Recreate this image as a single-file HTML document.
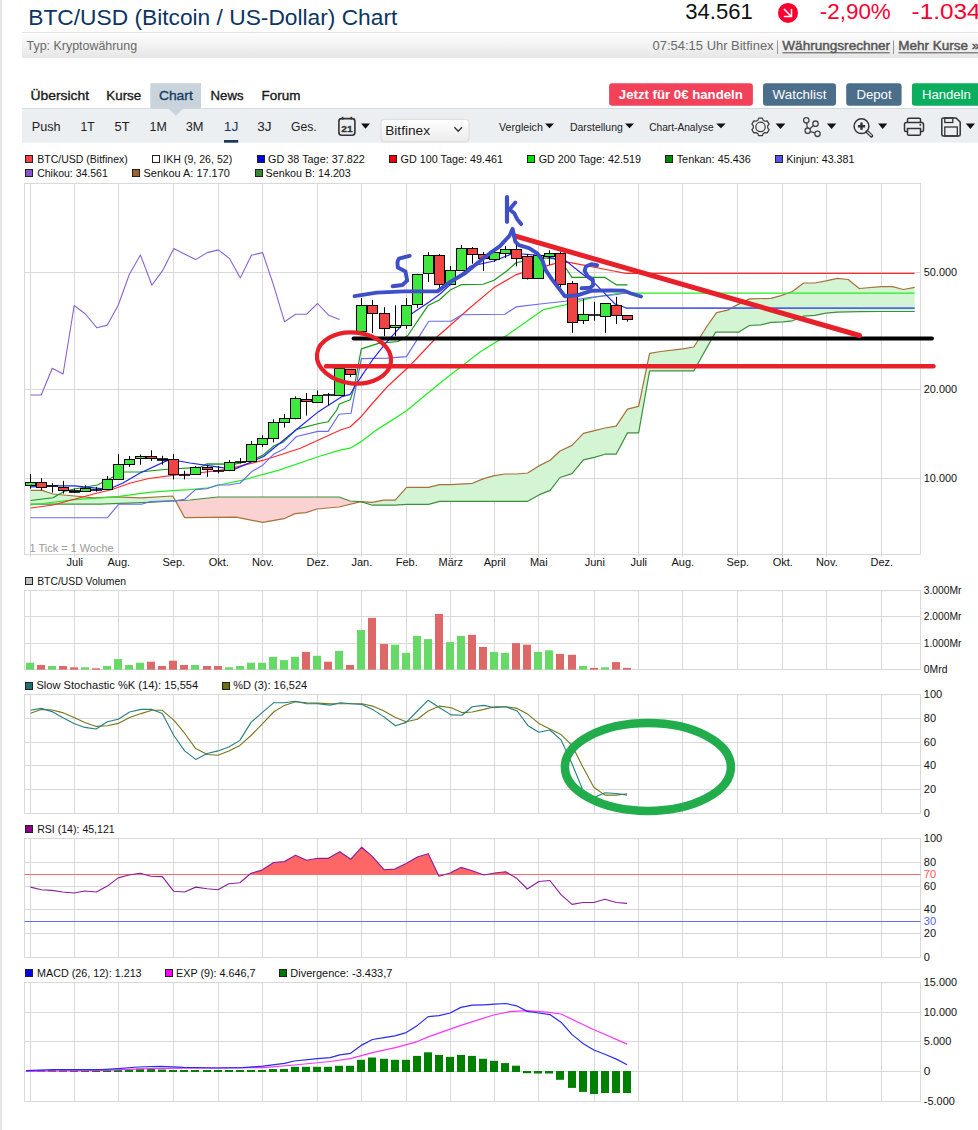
<!DOCTYPE html>
<html><head><meta charset="utf-8"><title>BTC/USD Chart</title><style>html,body{margin:0;padding:0;background:#fff;}svg{display:block;}</style></head><body>
<svg width="978" height="1130" viewBox="0 0 978 1130" font-family="Liberation Sans, sans-serif">
<defs><linearGradient id="subbar" x1="0" y1="0" x2="0" y2="1"><stop offset="0" stop-color="#ffffff"/><stop offset="1" stop-color="#e6e6e6"/></linearGradient><linearGradient id="selg" x1="0" y1="0" x2="0" y2="1"><stop offset="0" stop-color="#ffffff"/><stop offset="1" stop-color="#ececec"/></linearGradient></defs>
<rect width="978" height="1130" fill="#fff"/>
<rect x="0" y="0" width="2" height="1130" fill="#e6e6e6"/>
<text x="28.3" y="24.6" font-size="21.5" fill="#0c3564" textLength="369" lengthAdjust="spacingAndGlyphs">BTC/USD (Bitcoin / US-Dollar) Chart</text>
<text x="685.3" y="19" font-size="22" fill="#111" textLength="67.5" lengthAdjust="spacingAndGlyphs">34.561</text>
<circle cx="788" cy="12.9" r="10" fill="#fa0032"/>
<path d="M784.3 9.4 L791.1 16.2 M791.5 9.6 V16.6 H784.5" fill="none" stroke="#fff" stroke-width="1.5" stroke-linecap="round" stroke-linejoin="miter"/>
<text x="819.8" y="18.9" font-size="22" fill="#fa0032" textLength="71" lengthAdjust="spacingAndGlyphs">-2,90%</text>
<text x="911.6" y="18.9" font-size="22" fill="#fa0032" textLength="69" lengthAdjust="spacingAndGlyphs">-1.034</text>
<rect x="22" y="32" width="956" height="26" fill="url(#subbar)"/>
<line x1="22" y1="32.5" x2="978" y2="32.5" stroke="#e2e2e2" stroke-width="1"/>
<text x="26.6" y="50.1" font-size="13" fill="#6a6a6a" textLength="110.5" lengthAdjust="spacingAndGlyphs">Typ: Kryptowährung</text>
<text x="652.6" y="50.1" font-size="13" fill="#6a6a6a" textLength="121" lengthAdjust="spacingAndGlyphs">07:54:15 Uhr Bitfinex</text>
<rect x="777" y="40.5" width="1" height="13.5" fill="#999"/>
<text x="782.3" y="50.1" font-size="13.3" fill="#555" textLength="107.8" lengthAdjust="spacingAndGlyphs" stroke="#555" stroke-width="0.45">Währungsrechner</text>
<rect x="782.5" y="52.3" width="107.3" height="1" fill="#555"/>
<rect x="893" y="40.5" width="1" height="13.5" fill="#999"/>
<text x="898.2" y="50.1" font-size="13.3" fill="#555" textLength="81" lengthAdjust="spacingAndGlyphs" stroke="#555" stroke-width="0.45">Mehr Kurse »</text>
<rect x="898.5" y="52.3" width="80" height="1" fill="#555"/>
<rect x="150.3" y="83.2" width="50.7" height="25.4" fill="#c9d3dc"/>
<text x="30.5" y="100.1" font-size="12.8" fill="#1a1a1a" textLength="58.6" lengthAdjust="spacingAndGlyphs" stroke="#1a1a1a" stroke-width="0.35">Übersicht</text>
<text x="106.3" y="100.1" font-size="12.8" fill="#1a1a1a" textLength="34.9" lengthAdjust="spacingAndGlyphs" stroke="#1a1a1a" stroke-width="0.35">Kurse</text>
<text x="158.9" y="100.1" font-size="12.8" fill="#163e64" textLength="33.9" lengthAdjust="spacingAndGlyphs" stroke="#163e64" stroke-width="0.35">Chart</text>
<text x="210.6" y="100.1" font-size="12.8" fill="#1a1a1a" textLength="32.9" lengthAdjust="spacingAndGlyphs" stroke="#1a1a1a" stroke-width="0.35">News</text>
<text x="261.6" y="100.1" font-size="12.8" fill="#1a1a1a" textLength="38.9" lengthAdjust="spacingAndGlyphs" stroke="#1a1a1a" stroke-width="0.35">Forum</text>
<rect x="609.1" y="83.2" width="143.8" height="22.5" rx="3" fill="#f2425a"/>
<text x="618.8" y="98.6" font-size="12.5" fill="#fff" font-weight="bold" textLength="124" lengthAdjust="spacingAndGlyphs">Jetzt für 0€ handeln</text>
<rect x="763" y="83.2" width="73" height="22.5" rx="3" fill="#4b6e8a"/>
<text x="772.6" y="98.6" font-size="13.3" fill="#fff" textLength="53.8" lengthAdjust="spacingAndGlyphs">Watchlist</text>
<rect x="846.2" y="83.2" width="55.4" height="22.5" rx="3" fill="#4b6e8a"/>
<text x="856.4" y="98.6" font-size="13.3" fill="#fff" textLength="35.2" lengthAdjust="spacingAndGlyphs">Depot</text>
<rect x="911.9" y="83.2" width="70" height="22.5" rx="3" fill="#0aae5e"/>
<text x="922" y="98.6" font-size="13.3" fill="#fff" textLength="48.8" lengthAdjust="spacingAndGlyphs">Handeln</text>
<rect x="22" y="108.4" width="956" height="34.3" fill="#eceff2"/>
<line x1="22" y1="108.5" x2="978" y2="108.5" stroke="#d4dbe2" stroke-width="1"/>
<rect x="150.3" y="108.3" width="50.7" height="0.6" fill="#c9d3dc"/>
<polygon points="168.3,108.4 183.3,108.4 175.8,115.8" fill="#c9d3dc"/>
<text x="31.8" y="131" font-size="13" fill="#222" textLength="28.8" lengthAdjust="spacingAndGlyphs">Push</text>
<text x="80.6" y="131" font-size="13" fill="#222" textLength="14" lengthAdjust="spacingAndGlyphs">1T</text>
<text x="114.6" y="131" font-size="13" fill="#222" textLength="15" lengthAdjust="spacingAndGlyphs">5T</text>
<text x="149.6" y="131" font-size="13" fill="#222" textLength="17.2" lengthAdjust="spacingAndGlyphs">1M</text>
<text x="185.7" y="131" font-size="13" fill="#222" textLength="17.8" lengthAdjust="spacingAndGlyphs">3M</text>
<text x="223.8" y="131" font-size="13" fill="#1c3a5c" textLength="14.7" lengthAdjust="spacingAndGlyphs">1J</text>
<text x="257.3" y="131" font-size="13" fill="#222" textLength="14.3" lengthAdjust="spacingAndGlyphs">3J</text>
<text x="291" y="131" font-size="13" fill="#222" textLength="25.7" lengthAdjust="spacingAndGlyphs">Ges.</text>
<rect x="224" y="140" width="14.2" height="2.7" fill="#1b3a5a"/>
<rect x="338.9" y="118.6" width="16" height="16.6" rx="2.6" fill="none" stroke="#333" stroke-width="1.6"/>
<line x1="342.6" y1="116.8" x2="342.6" y2="119.6" stroke="#333" stroke-width="1.6"/>
<line x1="351.3" y1="116.8" x2="351.3" y2="119.6" stroke="#333" stroke-width="1.6"/>
<text x="341.3" y="132.4" font-size="9.6" fill="#333" font-weight="bold" textLength="11.4" lengthAdjust="spacingAndGlyphs" stroke="#333" stroke-width="0.3">21</text>
<polygon points="361,123.6 370,123.6 365.5,128.8" fill="#111"/>
<rect x="381" y="119.3" width="88" height="22.6" rx="3.5" fill="url(#selg)" stroke="#dadada" stroke-width="1"/>
<text x="385.2" y="135" font-size="13" fill="#1a1a1a" textLength="44.8" lengthAdjust="spacingAndGlyphs">Bitfinex</text>
<polyline points="454.4,127.3 458.2,131.2 462,127.3" fill="none" stroke="#333" stroke-width="1.4"/>
<text x="499.1" y="130.5" font-size="11.5" fill="#222" textLength="43.7" lengthAdjust="spacingAndGlyphs">Vergleich</text>
<polygon points="545,123.4 554,123.4 549.5,128.2" fill="#111"/>
<text x="569.9" y="130.5" font-size="11.5" fill="#222" textLength="52.9" lengthAdjust="spacingAndGlyphs">Darstellung</text>
<polygon points="625,123.4 634,123.4 629.5,128.2" fill="#111"/>
<text x="649.2" y="130.5" font-size="11.5" fill="#222" textLength="64.4" lengthAdjust="spacingAndGlyphs">Chart-Analyse</text>
<polygon points="716.2,123.4 725.7,123.4 720.95,128.2" fill="#111"/>
<path d="M757.8 120.22 L758.63 118.1 L762.37 118.1 L763.2 120.22 A7.2 7.2 0 0 1 764.93 121.23 L767.19 120.88 L769.06 124.12 L767.63 125.9 A7.2 7.2 0 0 1 767.63 127.9 L769.06 129.68 L767.19 132.92 L764.93 132.57 A7.2 7.2 0 0 1 763.2 133.58 L762.37 135.7 L758.63 135.7 L757.8 133.58 A7.2 7.2 0 0 1 756.07 132.57 L753.81 132.92 L751.94 129.68 L753.37 127.9 A7.2 7.2 0 0 1 753.37 125.9 L751.94 124.12 L753.81 120.88 L756.07 121.23 A7.2 7.2 0 0 1 757.8 120.22 Z" fill="none" stroke="#3a3a3a" stroke-width="1.2" stroke-linejoin="round"/>
<circle cx="760.5" cy="126.9" r="4.7" fill="none" stroke="#3a3a3a" stroke-width="1.2"/>
<polygon points="775.6,123.4 785.4,123.4 780.5,129" fill="#111"/>
<path d="M806.3 120.3 L807.7 130.7 L815.5 123.7 M807.7 130.7 L817.5 133.8" fill="none" stroke="#444" stroke-width="1.3"/>
<circle cx="806.3" cy="120.3" r="2.7" fill="#eceff2" stroke="#444" stroke-width="1.3"/>
<circle cx="815.5" cy="123.7" r="2.7" fill="#eceff2" stroke="#444" stroke-width="1.3"/>
<circle cx="807.7" cy="130.7" r="2.7" fill="#eceff2" stroke="#444" stroke-width="1.3"/>
<circle cx="817.5" cy="133.8" r="2.7" fill="#eceff2" stroke="#444" stroke-width="1.3"/>
<polygon points="826.9,123.4 836.3,123.4 831.6,129" fill="#111"/>
<circle cx="861.5" cy="126.2" r="7.4" fill="none" stroke="#333" stroke-width="1.5"/>
<line x1="867.2" y1="131.7" x2="871.6" y2="135.9" stroke="#333" stroke-width="3.4" stroke-linecap="round"/>
<line x1="867.6" y1="132.1" x2="871.2" y2="135.5" stroke="#eceff2" stroke-width="1.1" stroke-linecap="round"/>
<path d="M857.9 126.2 H865.1 M861.5 122.6 V129.8" stroke="#333" stroke-width="2.4"/>
<polygon points="878.1,123.6 887.3,123.6 882.7,129" fill="#111"/>
<path d="M907.5 122.5 V119.5 Q907.5 118.2 909 118.2 H919 Q920.5 118.2 920.5 119.5 V122.5" fill="none" stroke="#333" stroke-width="1.5"/>
<path d="M907.5 131.5 H905.8 Q904.5 131.5 904.5 130 V124.5 Q904.5 122.5 906.5 122.5 H921.5 Q923.5 122.5 923.5 124.5 V130 Q923.5 131.5 922 131.5 H920.5" fill="none" stroke="#333" stroke-width="1.5"/>
<path d="M907.5 128.5 H920.5 V134 Q920.5 135.3 919 135.3 H909 Q907.5 135.3 907.5 134 Z" fill="none" stroke="#333" stroke-width="1.5"/>
<circle cx="920.3" cy="125" r="0.9" fill="#333"/>
<path d="M941.8 119.5 Q941.8 118 943.3 118 H956 L960.2 122 V134.5 Q960.2 136 958.7 136 H943.3 Q941.8 136 941.8 134.5 Z" fill="none" stroke="#333" stroke-width="1.5"/>
<rect x="944.8" y="118" width="8" height="4.5" fill="none" stroke="#333" stroke-width="1.3"/>
<rect x="944.8" y="127" width="12.5" height="9" fill="none" stroke="#333" stroke-width="1.3"/>
<polygon points="965.8,123.6 975,123.6 970.4,129" fill="#111"/>
<line x1="30.5" y1="183.5" x2="30.5" y2="557.0" stroke="#d9d9d9" stroke-width="1"/>
<line x1="74.5" y1="183.5" x2="74.5" y2="557.0" stroke="#d9d9d9" stroke-width="1"/>
<line x1="118.5" y1="183.5" x2="118.5" y2="557.0" stroke="#d9d9d9" stroke-width="1"/>
<line x1="173.5" y1="183.5" x2="173.5" y2="557.0" stroke="#d9d9d9" stroke-width="1"/>
<line x1="218.5" y1="183.5" x2="218.5" y2="557.0" stroke="#d9d9d9" stroke-width="1"/>
<line x1="262.5" y1="183.5" x2="262.5" y2="557.0" stroke="#d9d9d9" stroke-width="1"/>
<line x1="317.5" y1="183.5" x2="317.5" y2="557.0" stroke="#d9d9d9" stroke-width="1"/>
<line x1="361.5" y1="183.5" x2="361.5" y2="557.0" stroke="#d9d9d9" stroke-width="1"/>
<line x1="406.5" y1="183.5" x2="406.5" y2="557.0" stroke="#d9d9d9" stroke-width="1"/>
<line x1="450.5" y1="183.5" x2="450.5" y2="557.0" stroke="#d9d9d9" stroke-width="1"/>
<line x1="494.5" y1="183.5" x2="494.5" y2="557.0" stroke="#d9d9d9" stroke-width="1"/>
<line x1="538.5" y1="183.5" x2="538.5" y2="557.0" stroke="#d9d9d9" stroke-width="1"/>
<line x1="594.5" y1="183.5" x2="594.5" y2="557.0" stroke="#d9d9d9" stroke-width="1"/>
<line x1="638.5" y1="183.5" x2="638.5" y2="557.0" stroke="#d9d9d9" stroke-width="1"/>
<line x1="682.5" y1="183.5" x2="682.5" y2="557.0" stroke="#d9d9d9" stroke-width="1"/>
<line x1="737.5" y1="183.5" x2="737.5" y2="557.0" stroke="#d9d9d9" stroke-width="1"/>
<line x1="782.5" y1="183.5" x2="782.5" y2="557.0" stroke="#d9d9d9" stroke-width="1"/>
<line x1="826.5" y1="183.5" x2="826.5" y2="557.0" stroke="#d9d9d9" stroke-width="1"/>
<line x1="881.5" y1="183.5" x2="881.5" y2="557.0" stroke="#d9d9d9" stroke-width="1"/>
<line x1="24.5" y1="272.5" x2="920.5" y2="272.5" stroke="#d9d9d9" stroke-width="1"/>
<line x1="24.5" y1="389.5" x2="920.5" y2="389.5" stroke="#d9d9d9" stroke-width="1"/>
<line x1="24.5" y1="478.5" x2="920.5" y2="478.5" stroke="#d9d9d9" stroke-width="1"/>
<rect x="24.5" y="183.5" width="896.0" height="371.0" fill="none" stroke="#d9d9d9" stroke-width="1"/>
<rect x="25.5" y="155.5" width="7" height="7" fill="#f04444" stroke="#222" stroke-width="1"/>
<text x="37.2" y="162.8" font-size="10.4" fill="#111" textLength="90.6" lengthAdjust="spacingAndGlyphs">BTC/USD (Bitfinex)</text>
<rect x="152.5" y="155.5" width="7" height="7" fill="#ffffff" stroke="#222" stroke-width="1"/>
<text x="163.3" y="162.8" font-size="10.4" fill="#111" textLength="68.9" lengthAdjust="spacingAndGlyphs">IKH (9, 26, 52)</text>
<rect x="257.5" y="155.5" width="7" height="7" fill="#0000dd" stroke="#222" stroke-width="1"/>
<text x="268.1" y="162.8" font-size="10.4" fill="#111" textLength="96.7" lengthAdjust="spacingAndGlyphs">GD 38 Tage: 37.822</text>
<rect x="389.5" y="155.5" width="7" height="7" fill="#ee0000" stroke="#222" stroke-width="1"/>
<text x="400.6" y="162.8" font-size="10.4" fill="#111" textLength="102.3" lengthAdjust="spacingAndGlyphs">GD 100 Tage: 49.461</text>
<rect x="527.5" y="155.5" width="7" height="7" fill="#00dd00" stroke="#222" stroke-width="1"/>
<text x="538.7" y="162.8" font-size="10.4" fill="#111" textLength="102.3" lengthAdjust="spacingAndGlyphs">GD 200 Tage: 42.519</text>
<rect x="665.5" y="155.5" width="7" height="7" fill="#008800" stroke="#222" stroke-width="1"/>
<text x="676.7" y="162.8" font-size="10.4" fill="#111" textLength="74.1" lengthAdjust="spacingAndGlyphs">Tenkan: 45.436</text>
<rect x="775.5" y="155.5" width="7" height="7" fill="#5555ee" stroke="#222" stroke-width="1"/>
<text x="786.2" y="162.8" font-size="10.4" fill="#111" textLength="68.2" lengthAdjust="spacingAndGlyphs">Kinjun: 43.381</text>
<rect x="25.5" y="169.5" width="7" height="7" fill="#8855cc" stroke="#222" stroke-width="1"/>
<text x="37.2" y="176.5" font-size="10.4" fill="#111" textLength="70.6" lengthAdjust="spacingAndGlyphs">Chikou: 34.561</text>
<rect x="132.5" y="169.5" width="7" height="7" fill="#a0602a" stroke="#222" stroke-width="1"/>
<text x="143.6" y="176.5" font-size="10.4" fill="#111" textLength="86.2" lengthAdjust="spacingAndGlyphs">Senkou A: 17.170</text>
<rect x="255.5" y="169.5" width="7" height="7" fill="#338833" stroke="#222" stroke-width="1"/>
<text x="265.6" y="176.5" font-size="10.4" fill="#111" textLength="85.2" lengthAdjust="spacingAndGlyphs">Senkou B: 14.203</text>
<text x="923.8" y="275.8" font-size="11.3" fill="#111" textLength="33.2" lengthAdjust="spacingAndGlyphs">50.000</text>
<text x="923.8" y="392.8" font-size="11.3" fill="#111" textLength="33.2" lengthAdjust="spacingAndGlyphs">20.000</text>
<text x="923.8" y="481.8" font-size="11.3" fill="#111" textLength="33.2" lengthAdjust="spacingAndGlyphs">10.000</text>
<text x="74.8" y="566.4" font-size="11" fill="#111" text-anchor="middle">Juli</text>
<text x="118.8" y="566.4" font-size="11" fill="#111" text-anchor="middle">Aug.</text>
<text x="173.8" y="566.4" font-size="11" fill="#111" text-anchor="middle">Sep.</text>
<text x="218.8" y="566.4" font-size="11" fill="#111" text-anchor="middle">Okt.</text>
<text x="262.8" y="566.4" font-size="11" fill="#111" text-anchor="middle">Nov.</text>
<text x="317.8" y="566.4" font-size="11" fill="#111" text-anchor="middle">Dez.</text>
<text x="361.8" y="566.4" font-size="11" fill="#111" text-anchor="middle">Jan.</text>
<text x="406.8" y="566.4" font-size="11" fill="#111" text-anchor="middle">Feb.</text>
<text x="450.8" y="566.4" font-size="11" fill="#111" text-anchor="middle">März</text>
<text x="494.8" y="566.4" font-size="11" fill="#111" text-anchor="middle">April</text>
<text x="538.8" y="566.4" font-size="11" fill="#111" text-anchor="middle">Mai</text>
<text x="594.8" y="566.4" font-size="11" fill="#111" text-anchor="middle">Juni</text>
<text x="638.8" y="566.4" font-size="11" fill="#111" text-anchor="middle">Juli</text>
<text x="682.8" y="566.4" font-size="11" fill="#111" text-anchor="middle">Aug.</text>
<text x="737.8" y="566.4" font-size="11" fill="#111" text-anchor="middle">Sep.</text>
<text x="782.8" y="566.4" font-size="11" fill="#111" text-anchor="middle">Okt.</text>
<text x="826.8" y="566.4" font-size="11" fill="#111" text-anchor="middle">Nov.</text>
<text x="881.8" y="566.4" font-size="11" fill="#111" text-anchor="middle">Dez.</text>
<text x="29.6" y="552.2" font-size="11" fill="#9a9a9a" textLength="84" lengthAdjust="spacingAndGlyphs">1 Tick = 1 Woche</text>
<polygon points="30.5,490.4 31,490.4 31.5,490.4 32,490.4 32.5,490.4 33,490.4 33.5,490.4 34,490.4 34.5,490.4 35,490.4 35.5,490.4 36,490.4 36.5,490.4 37,490.4 37.5,490.4 38,490.4 38.5,490.4 39,490.4 39.5,490.4 40,490.4 40.5,490.4 41,490.4 41.5,490.4 42,490.4 42.5,490.56 43,490.73 43.5,490.89 44,491.05 44.5,491.22 45,491.38 45.5,491.55 46,491.71 46.5,491.87 47,492.04 47.5,492.2 48,492.36 48.5,492.53 49,492.69 49.5,492.85 50,493.02 50.5,493.18 51,493.35 51.5,493.51 52,493.67 52.5,493.84 53,494 53.5,494.05 54,494.09 54.5,494.14 55,494.19 55.5,494.23 56,494.28 56.5,494.33 57,494.37 57.5,494.42 58,494.47 58.5,494.51 59,494.56 59.5,494.6 60,494.65 60.5,494.7 61,494.74 61.5,494.79 62,494.84 62.5,494.88 63,494.93 63.5,494.98 64,495.02 64.5,495.07 65,495.12 65.5,495.16 66,495.21 66.5,495.26 67,495.3 67.5,495.35 68,495.4 68.5,495.44 69,495.49 69.5,495.53 70,495.58 70.5,495.63 71,495.67 71.5,495.72 72,495.77 72.5,495.81 73,495.86 73.5,495.91 74,495.95 74.5,496 75,496.05 75.5,496.09 76,496.14 76.5,496.19 77,496.24 77.5,496.28 78,496.33 78.5,496.38 79,496.42 79.5,496.47 80,496.52 80.5,496.57 81,496.61 81.5,496.66 82,496.71 82.5,496.75 83,496.8 83.5,496.85 84,496.9 84.5,496.94 85,496.99 85.5,497.04 86,497.08 86.5,497.13 87,497.18 87.5,497.23 88,497.27 88.5,497.32 89,497.37 89.5,497.41 90,497.46 90.5,497.51 91,497.55 91.5,497.6 92,497.65 92.5,497.7 93,497.74 93.5,497.79 94,497.78 94.5,497.76 95,497.74 95.5,497.72 96,497.7 96.5,497.68 97,497.66 97.5,497.64 98,497.62 98.5,497.6 99,497.58 99.5,497.56 100,497.54 100.5,497.52 101,497.5 101.5,497.48 102,497.46 102.5,497.44 103,497.42 103.5,497.4 104,497.38 104.5,497.36 105,497.34 105.5,497.32 106,497.3 106.5,497.27 107,497.25 107.5,497.23 108,497.21 108.5,497.19 109,497.17 109.5,497.15 110,497.13 110.5,497.11 111,497.09 111.5,497.07 112,497.05 112.5,497.03 113,497.01 113.5,496.99 114,496.97 114.5,496.95 115,496.93 115.5,496.91 116,496.91 116.5,496.93 117,496.95 117.5,496.96 118,496.98 118.5,497 119,497.02 119.5,497.03 120,497.05 120.5,497.07 121,497.08 121.5,497.1 122,497.12 122.5,497.14 123,497.15 123.5,497.17 124,497.19 124.5,497.21 125,497.22 125.5,497.24 126,497.26 126.5,497.28 127,497.29 127.5,497.31 128,497.33 128.5,497.35 129,497.36 129.5,497.38 130,497.4 130.5,497.42 131,497.43 131.5,497.45 132,497.47 132.5,497.49 133,497.5 133.5,497.52 134,497.54 134.5,497.56 135,497.57 135.5,497.59 136,497.61 136.5,497.63 137,497.64 137.5,497.66 138,497.68 138.5,497.7 139,497.71 139.5,497.73 140,497.75 140.5,497.77 141,497.78 141.5,497.8 142,497.77 142.5,497.74 143,497.71 143.5,497.68 144,497.66 144.5,497.63 145,497.6 145.5,497.57 146,497.54 146.5,497.51 147,497.48 147.5,497.45 148,497.43 148.5,497.4 149,497.37 149.5,497.34 150,497.31 150.5,497.28 151,497.25 151.5,497.22 152,497.2 152.5,497.17 153,497.14 153.5,497.11 154,497.08 154.5,497.05 155,497.02 155.5,496.99 156,496.97 156.5,496.94 157,496.91 157.5,496.88 158,496.85 158.5,496.82 159,496.79 159.5,496.76 160,496.74 160.5,496.71 161,496.68 161.5,496.65 162,496.62 162.5,496.59 163,496.56 163.5,496.53 164,496.51 164.5,496.48 165,496.45 165.5,496.42 166,496.39 166.5,496.36 167,496.33 167.5,496.3 168,496.28 168.5,496.25 169,496.22 169.5,496.19 170,496.16 170.5,496.13 171,496.1 171.5,496.07 172,496.05 172.5,496.02 173,496.36 173.5,497.28 174,498.19 174.5,499.1 175,500.01 175.5,500.92 175.5,500.84 175,500.87 174.5,500.9 174,500.93 173.5,500.96 173,500.99 172.5,501.02 172,501.05 171.5,501.08 171,501.11 170.5,501.14 170,501.17 169.5,501.19 169,501.22 168.5,501.25 168,501.28 167.5,501.31 167,501.34 166.5,501.37 166,501.4 165.5,501.43 165,501.46 164.5,501.49 164,501.51 163.5,501.54 163,501.57 162.5,501.6 162,501.63 161.5,501.66 161,501.69 160.5,501.72 160,501.75 159.5,501.78 159,501.81 158.5,501.83 158,501.86 157.5,501.89 157,501.92 156.5,501.95 156,501.98 155.5,502.01 155,502.04 154.5,502.07 154,502.1 153.5,502.13 153,502.16 152.5,502.18 152,502.21 151.5,502.24 151,502.27 150.5,502.3 150,502.33 149.5,502.36 149,502.39 148.5,502.41 148,502.43 147.5,502.45 147,502.47 146.5,502.48 146,502.5 145.5,502.52 145,502.54 144.5,502.56 144,502.58 143.5,502.6 143,502.61 142.5,502.63 142,502.65 141.5,502.67 141,502.69 140.5,502.71 140,502.72 139.5,502.74 139,502.76 138.5,502.78 138,502.8 137.5,502.82 137,502.84 136.5,502.85 136,502.87 135.5,502.89 135,502.91 134.5,502.93 134,502.95 133.5,502.96 133,502.98 132.5,503 132,503.02 131.5,503.04 131,503.06 130.5,503.07 130,503.09 129.5,503.11 129,503.13 128.5,503.15 128,503.17 127.5,503.19 127,503.2 126.5,503.22 126,503.24 125.5,503.26 125,503.28 124.5,503.3 124,503.31 123.5,503.33 123,503.35 122.5,503.37 122,503.39 121.5,503.41 121,503.43 120.5,503.44 120,503.46 119.5,503.48 119,503.5 118.5,503.52 118,503.54 117.5,503.55 117,503.57 116.5,503.59 116,503.61 115.5,503.63 115,503.65 114.5,503.67 114,503.68 113.5,503.7 113,503.72 112.5,503.74 112,503.76 111.5,503.78 111,503.79 110.5,503.81 110,503.83 109.5,503.85 109,503.87 108.5,503.89 108,503.9 107.5,503.92 107,503.94 106.5,503.96 106,503.98 105.5,504 105,504.02 104.5,504.03 104,504.05 103.5,504.07 103,504.09 102.5,504.11 102,504.13 101.5,504.14 101,504.16 100.5,504.18 100,504.2 99.5,504.2 99,504.2 98.5,504.2 98,504.2 97.5,504.2 97,504.2 96.5,504.2 96,504.2 95.5,504.2 95,504.2 94.5,504.2 94,504.2 93.5,504.2 93,504.2 92.5,504.2 92,504.2 91.5,504.2 91,504.2 90.5,504.2 90,504.2 89.5,504.2 89,504.2 88.5,504.2 88,504.2 87.5,504.2 87,504.2 86.5,504.2 86,504.2 85.5,504.2 85,504.2 84.5,504.2 84,504.2 83.5,504.2 83,504.2 82.5,504.2 82,504.2 81.5,504.2 81,504.2 80.5,504.2 80,504.2 79.5,504.2 79,504.2 78.5,504.2 78,504.2 77.5,504.2 77,504.2 76.5,504.2 76,504.2 75.5,504.2 75,504.2 74.5,504.2 74,504.2 73.5,504.2 73,504.2 72.5,504.2 72,504.2 71.5,504.2 71,504.2 70.5,504.2 70,504.2 69.5,504.2 69,504.2 68.5,504.2 68,504.2 67.5,504.2 67,504.2 66.5,504.2 66,504.2 65.5,504.2 65,504.2 64.5,504.2 64,504.2 63.5,504.2 63,504.2 62.5,504.2 62,504.2 61.5,504.2 61,504.2 60.5,504.2 60,504.2 59.5,504.2 59,504.2 58.5,504.2 58,504.2 57.5,504.2 57,504.2 56.5,504.2 56,504.2 55.5,504.2 55,504.2 54.5,504.2 54,504.2 53.5,504.2 53,504.2 52.5,504.2 52,504.2 51.5,504.2 51,504.2 50.5,504.2 50,504.2 49.5,504.2 49,504.2 48.5,504.2 48,504.2 47.5,504.2 47,504.2 46.5,504.2 46,504.2 45.5,504.2 45,504.2 44.5,504.2 44,504.2 43.5,504.2 43,504.2 42.5,504.2 42,504.2 41.5,504.2 41,504.2 40.5,504.2 40,504.2 39.5,504.2 39,504.2 38.5,504.2 38,504.2 37.5,504.2 37,504.2 36.5,504.2 36,504.2 35.5,504.2 35,504.2 34.5,504.2 34,504.2 33.5,504.2 33,504.2 32.5,504.2 32,504.2 31.5,504.2 31,504.2 30.5,504.2" fill="#d4f5d4"/>
<polygon points="175.5,500.92 176,501.84 176.5,502.75 177,503.66 177.5,504.57 178,505.48 178.5,506.39 179,507.31 179.5,508.22 180,509.13 180.5,510.04 181,510.95 181.5,511.86 182,512.78 182.5,513.69 183,514.6 183.5,515.51 184,516.42 184.5,517.34 185,517.7 185.5,517.69 186,517.69 186.5,517.68 187,517.68 187.5,517.67 188,517.67 188.5,517.66 189,517.66 189.5,517.65 190,517.65 190.5,517.64 191,517.64 191.5,517.63 192,517.63 192.5,517.62 193,517.62 193.5,517.61 194,517.61 194.5,517.6 195,517.6 195.5,517.59 196,517.59 196.5,517.58 197,517.58 197.5,517.58 198,517.57 198.5,517.57 199,517.56 199.5,517.56 200,517.55 200.5,517.55 201,517.54 201.5,517.54 202,517.53 202.5,517.53 203,517.52 203.5,517.52 204,517.51 204.5,517.51 205,517.5 205.5,517.5 206,517.49 206.5,517.49 207,517.48 207.5,517.48 208,517.47 208.5,517.47 209,517.46 209.5,517.46 210,517.45 210.5,517.45 211,517.44 211.5,517.44 212,517.43 212.5,517.43 213,517.42 213.5,517.42 214,517.41 214.5,517.41 215,517.4 215.5,517.4 216,517.39 216.5,517.39 217,517.39 217.5,517.38 218,517.38 218.5,517.37 219,517.37 219.5,517.36 220,517.36 220.5,517.35 221,517.35 221.5,517.34 222,517.34 222.5,517.33 223,517.33 223.5,517.32 224,517.32 224.5,517.31 225,517.31 225.5,517.3 226,517.3 226.5,517.29 227,517.29 227.5,517.28 228,517.28 228.5,517.27 229,517.27 229.5,517.26 230,517.26 230.5,517.25 231,517.25 231.5,517.24 232,517.24 232.5,517.23 233,517.23 233.5,517.22 234,517.22 234.5,517.21 235,517.21 235.5,517.2 236,517.2 236.5,517.3 237,517.39 237.5,517.49 238,517.59 238.5,517.69 239,517.78 239.5,517.88 240,517.98 240.5,518.08 241,518.17 241.5,518.27 242,518.37 242.5,518.47 243,518.56 243.5,518.66 244,518.76 244.5,518.86 245,518.95 245.5,519.05 246,519.15 246.5,519.24 247,519.34 247.5,519.44 248,519.54 248.5,519.63 249,519.73 249.5,519.83 250,519.93 250.5,520.02 251,520.12 251.5,520.22 252,520.32 252.5,520.41 253,520.51 253.5,520.61 254,520.71 254.5,520.8 255,520.9 255.5,521 256,521.1 256.5,521.19 257,521.29 257.5,521.39 258,521.48 258.5,521.58 259,521.68 259.5,521.78 260,521.87 260.5,521.97 261,522.07 261.5,522.17 262,522.26 262.5,522.36 263,522.35 263.5,522.26 264,522.17 264.5,522.09 265,522 265.5,521.91 266,521.83 266.5,521.74 267,521.65 267.5,521.57 268,521.48 268.5,521.39 269,521.31 269.5,521.22 270,521.13 270.5,521.05 271,520.96 271.5,520.87 272,520.78 272.5,520.7 273,520.61 273.5,520.52 274,520.44 274.5,520.35 275,520.26 275.5,520.18 276,520.09 276.5,520 277,519.92 277.5,519.83 278,519.74 278.5,519.66 279,519.57 279.5,519.48 280,519.39 280.5,519.31 281,519.22 281.5,519.13 282,519.05 282.5,518.96 283,518.87 283.5,518.79 284,518.7 284.5,518.47 285,518.24 285.5,518 286,517.77 286.5,517.54 287,517.31 287.5,517.08 288,516.85 288.5,516.61 289,516.38 289.5,516.15 290,515.92 290.5,515.69 291,515.45 291.5,515.22 292,514.99 292.5,514.76 293,514.53 293.5,514.3 294,514.06 294.5,513.83 295,513.6 295.5,513.55 296,513.51 296.5,513.46 297,513.42 297.5,513.37 298,513.33 298.5,513.28 299,513.24 299.5,513.19 300,513.15 300.5,513.1 301,513.05 301.5,513.01 302,512.96 302.5,512.92 303,512.87 303.5,512.83 304,512.78 304.5,512.74 305,512.69 305.5,512.65 306,512.6 306.5,512.44 307,512.27 307.5,512.11 308,511.95 308.5,511.78 309,511.62 309.5,511.45 310,511.29 310.5,511.13 311,510.96 311.5,510.8 312,510.64 312.5,510.47 313,510.31 313.5,510.15 314,509.98 314.5,509.82 315,509.65 315.5,509.49 316,509.33 316.5,509.16 317,509 317.5,508.95 318,508.91 318.5,508.86 319,508.82 319.5,508.77 320,508.73 320.5,508.68 321,508.64 321.5,508.59 322,508.55 322.5,508.5 323,508.45 323.5,508.41 324,508.36 324.5,508.32 325,508.27 325.5,508.23 326,508.18 326.5,508.14 327,508.09 327.5,508.05 328,508 328.5,507.95 329,507.91 329.5,507.86 330,507.82 330.5,507.77 331,507.73 331.5,507.68 332,507.64 332.5,507.59 333,507.55 333.5,507.5 334,507.45 334.5,507.41 335,507.36 335.5,507.32 336,507.27 336.5,507.23 337,507.18 337.5,507.14 338,507.09 338.5,507.05 339,507 339.5,506.88 340,506.75 340.5,506.63 341,506.51 341.5,506.39 342,506.26 342.5,506.14 343,506.02 343.5,505.9 344,505.77 344.5,505.65 345,505.53 345.5,505.4 346,505.28 346.5,505.16 347,505.04 347.5,504.91 348,504.79 348.5,504.67 349,504.55 349.5,504.42 350,504.3 350.5,504.18 351,504.05 351.5,503.93 352,503.81 352.5,503.69 353,503.56 353.5,503.44 354,503.32 354.5,503.2 355,503.07 355.5,502.95 356,502.83 356.5,502.7 357,502.58 357.5,502.46 358,502.34 358.5,502.21 359,502.09 359.5,501.97 360,501.85 360.5,501.72 361,501.6 361,501.6 360.5,501.57 360,501.55 359.5,501.52 359,501.49 358.5,501.46 358,501.44 357.5,501.41 357,501.38 356.5,501.35 356,501.33 355.5,501.3 355,501.27 354.5,501.25 354,501.22 353.5,501.19 353,501.16 352.5,501.14 352,501.11 351.5,501.08 351,501.05 350.5,501.03 350,501 349.5,500.82 349,500.64 348.5,500.45 348,500.27 347.5,500.09 347,499.91 346.5,499.73 346,499.55 345.5,499.36 345,499.18 344.5,499 344,498.82 343.5,498.64 343,498.45 342.5,498.27 342,498.09 341.5,497.91 341,497.73 340.5,497.55 340,497.36 339.5,497.18 339,497 338.5,497 338,497 337.5,497 337,497 336.5,497 336,497 335.5,497 335,497 334.5,497 334,497 333.5,497 333,497 332.5,497 332,497 331.5,497 331,497 330.5,497 330,497 329.5,497 329,497 328.5,497 328,497 327.5,497 327,497 326.5,497 326,497 325.5,497 325,497 324.5,497 324,497 323.5,497 323,497 322.5,497 322,497 321.5,497 321,497 320.5,497 320,497 319.5,497 319,497 318.5,497 318,497 317.5,497 317,497 316.5,497 316,497 315.5,497 315,497 314.5,497 314,497 313.5,497 313,497 312.5,497 312,497 311.5,497 311,497 310.5,497 310,497 309.5,497 309,497 308.5,497 308,497 307.5,497 307,497 306.5,497 306,497 305.5,497 305,497 304.5,497 304,497 303.5,497 303,497 302.5,497 302,497 301.5,497 301,497 300.5,497 300,497 299.5,497 299,497 298.5,497 298,497 297.5,497 297,497 296.5,497 296,497 295.5,497 295,497 294.5,497 294,497 293.5,497 293,497 292.5,497 292,497 291.5,497 291,497 290.5,497 290,497 289.5,497 289,497 288.5,497 288,497 287.5,497 287,497 286.5,497 286,497 285.5,497 285,497 284.5,497 284,497 283.5,497 283,497 282.5,497 282,497 281.5,497 281,497 280.5,497 280,497 279.5,497 279,497 278.5,497 278,497 277.5,497 277,497 276.5,497 276,497 275.5,497 275,497 274.5,497 274,497 273.5,497 273,497 272.5,497 272,497 271.5,497 271,497 270.5,497 270,497 269.5,497 269,497 268.5,497 268,497 267.5,497 267,497 266.5,497 266,497 265.5,497 265,497 264.5,497 264,497 263.5,497 263,497 262.5,497 262,497 261.5,497 261,497 260.5,497 260,497 259.5,497 259,497 258.5,497 258,497 257.5,497 257,497 256.5,497 256,497 255.5,497 255,497 254.5,497 254,497 253.5,497 253,497 252.5,497 252,497 251.5,497 251,497 250.5,497 250,497 249.5,497 249,497 248.5,497 248,497 247.5,497 247,497 246.5,497 246,497 245.5,497 245,497 244.5,497 244,497 243.5,497 243,497 242.5,497 242,497 241.5,497 241,497 240.5,497 240,497 239.5,497 239,497 238.5,497 238,497 237.5,497 237,497 236.5,497 236,497 235.5,497 235,497 234.5,497 234,497 233.5,497 233,497 232.5,497 232,497 231.5,497 231,497 230.5,497 230,497 229.5,497 229,497 228.5,497 228,497 227.5,497 227,497 226.5,497 226,497 225.5,497 225,497 224.5,497 224,497 223.5,497 223,497 222.5,497 222,497 221.5,497 221,497 220.5,497 220,497 219.5,497 219,497 218.5,497 218,497 217.5,497.01 217,497.07 216.5,497.12 216,497.17 215.5,497.23 215,497.28 214.5,497.34 214,497.39 213.5,497.45 213,497.5 212.5,497.55 212,497.61 211.5,497.66 211,497.72 210.5,497.77 210,497.83 209.5,497.88 209,497.93 208.5,497.99 208,498.04 207.5,498.1 207,498.15 206.5,498.21 206,498.26 205.5,498.32 205,498.37 204.5,498.42 204,498.48 203.5,498.53 203,498.59 202.5,498.64 202,498.7 201.5,498.75 201,498.8 200.5,498.86 200,498.91 199.5,498.97 199,499.02 198.5,499.08 198,499.13 197.5,499.18 197,499.24 196.5,499.29 196,499.35 195.5,499.4 195,499.46 194.5,499.51 194,499.57 193.5,499.62 193,499.67 192.5,499.73 192,499.78 191.5,499.84 191,499.89 190.5,499.95 190,500 189.5,500.03 189,500.06 188.5,500.09 188,500.12 187.5,500.15 187,500.17 186.5,500.2 186,500.23 185.5,500.26 185,500.29 184.5,500.32 184,500.35 183.5,500.38 183,500.41 182.5,500.44 182,500.47 181.5,500.5 181,500.52 180.5,500.55 180,500.58 179.5,500.61 179,500.64 178.5,500.67 178,500.7 177.5,500.73 177,500.76 176.5,500.79 176,500.82 175.5,500.84" fill="#fbd2d2"/>
<polygon points="361,501.6 361.5,501.63 362,501.66 362.5,501.69 363,501.72 363.5,501.75 364,501.79 364.5,501.82 365,501.85 365.5,501.88 366,501.91 366.5,501.94 367,501.97 367.5,502 368,502.03 368.5,502.06 369,502.1 369.5,502.13 370,502.16 370.5,502.19 371,502.22 371.5,502.25 372,502.28 372.5,502.26 373,502.17 373.5,502.07 374,501.98 374.5,501.89 375,501.79 375.5,501.7 376,501.61 376.5,501.51 377,501.42 377.5,501.32 378,501.23 378.5,501.14 379,501.04 379.5,500.95 380,500.86 380.5,500.76 381,500.67 381.5,500.57 382,500.48 382.5,500.39 383,500.29 383.5,500.2 384,500.2 384.5,500.2 385,500.2 385.5,500.2 386,500.2 386.5,500.2 387,500.2 387.5,500.2 388,500.2 388.5,500.2 389,500.2 389.5,500.2 390,500.2 390.5,500.2 391,500.2 391.5,500.2 392,500.2 392.5,500.2 393,500.2 393.5,500.2 394,500.2 394.5,500.2 395,500.2 395.5,499.86 396,499.3 396.5,498.74 397,498.18 397.5,497.62 398,497.06 398.5,496.49 399,495.93 399.5,495.37 400,494.81 400.5,494.25 401,493.69 401.5,493.13 402,492.56 402.5,492 403,491.44 403.5,490.88 404,490.32 404.5,489.76 405,489.2 405.5,488.64 406,488.07 406.5,487.51 407,487.4 407.5,487.4 408,487.4 408.5,487.4 409,487.4 409.5,487.4 410,487.4 410.5,487.4 411,487.4 411.5,487.4 412,487.4 412.5,487.4 413,487.4 413.5,487.4 414,487.4 414.5,487.4 415,487.4 415.5,487.4 416,487.4 416.5,487.4 417,487.4 417.5,487.4 418,487.4 418.5,487.4 419,487.4 419.5,487.4 420,487.4 420.5,487.4 421,487.4 421.5,487.4 422,487.4 422.5,487.4 423,487.4 423.5,487.4 424,487.4 424.5,487.4 425,487.4 425.5,487.4 426,487.4 426.5,487.4 427,487.4 427.5,487.4 428,487.4 428.5,487.4 429,487.28 429.5,487.16 430,487.04 430.5,486.92 431,486.8 431.5,486.68 432,486.56 432.5,486.44 433,486.32 433.5,486.21 434,486.09 434.5,485.97 435,485.85 435.5,485.73 436,485.61 436.5,485.49 437,485.37 437.5,485.25 438,485.13 438.5,485.01 439,484.89 439.5,484.77 440,484.7 440.5,484.7 441,484.7 441.5,484.7 442,484.7 442.5,484.7 443,484.7 443.5,484.7 444,484.7 444.5,484.7 445,484.7 445.5,484.7 446,484.7 446.5,484.7 447,484.7 447.5,484.7 448,484.7 448.5,484.7 449,484.7 449.5,484.7 450,484.7 450.5,484.7 451,484.67 451.5,484.64 452,484.61 452.5,484.58 453,484.55 453.5,484.51 454,484.48 454.5,484.45 455,484.42 455.5,484.39 456,484.35 456.5,484.32 457,484.29 457.5,484.26 458,484.23 458.5,484.19 459,484.16 459.5,484.13 460,484.1 460.5,484.07 461,484.04 461.5,484 462,483.97 462.5,483.94 463,483.91 463.5,483.88 464,483.84 464.5,483.81 465,483.78 465.5,483.75 466,483.72 466.5,483.68 467,483.65 467.5,483.62 468,483.59 468.5,483.56 469,483.52 469.5,483.49 470,483.46 470.5,483.43 471,483.4 471.5,483.36 472,483.33 472.5,483.3 473,483.09 473.5,482.88 474,482.67 474.5,482.46 475,482.25 475.5,482.04 476,481.83 476.5,481.62 477,481.41 477.5,481.2 478,480.99 478.5,480.78 479,480.57 479.5,480.36 480,480.15 480.5,479.94 481,479.73 481.5,479.52 482,479.31 482.5,479.1 483,478.89 483.5,478.68 484,478.52 484.5,478.39 485,478.25 485.5,478.12 486,477.99 486.5,477.86 487,477.72 487.5,477.59 488,477.46 488.5,477.32 489,477.19 489.5,477.06 490,476.92 490.5,476.79 491,476.66 491.5,476.52 492,476.39 492.5,476.26 493,476.13 493.5,475.99 494,475.86 494.5,475.73 495,475.64 495.5,475.56 496,475.48 496.5,475.4 497,475.32 497.5,475.23 498,475.15 498.5,475.07 499,474.99 499.5,474.91 500,474.83 500.5,474.75 501,474.67 501.5,474.59 502,474.51 502.5,474.43 503,474.35 503.5,474.27 504,474.19 504.5,474.11 505,474.03 505.5,474 506,474 506.5,474 507,474 507.5,474 508,474 508.5,474 509,474 509.5,474 510,474 510.5,474 511,474 511.5,474 512,474 512.5,474 513,474 513.5,474 514,474 514.5,474 515,474 515.5,474 516,474 516.5,473.99 517,473.95 517.5,473.9 518,473.86 518.5,473.81 519,473.77 519.5,473.73 520,473.68 520.5,473.64 521,473.59 521.5,473.55 522,473.5 522.5,473.46 523,473.42 523.5,473.37 524,473.33 524.5,473.28 525,473.24 525.5,473.19 526,473.15 526.5,473.11 527,473.06 527.5,473.02 528,472.81 528.5,472.49 529,472.18 529.5,471.86 530,471.54 530.5,471.23 531,470.91 531.5,470.59 532,470.27 532.5,469.96 533,469.64 533.5,469.32 534,469.01 534.5,468.69 535,468.37 535.5,468.06 536,467.74 536.5,467.42 537,467.1 537.5,466.79 538,466.47 538.5,466.15 539,465.85 539.5,465.6 540,465.35 540.5,465.09 541,464.84 541.5,464.59 542,464.34 542.5,464.08 543,463.83 543.5,463.58 544,463.33 544.5,463.08 545,462.82 545.5,462.57 546,462.32 546.5,462.07 547,461.81 547.5,461.56 548,461.31 548.5,461.06 549,460.81 549.5,460.55 550,460.3 550.5,459.92 551,459.45 551.5,458.98 552,458.51 552.5,458.04 553,457.57 553.5,457.1 554,456.63 554.5,456.16 555,455.69 555.5,455.22 556,454.76 556.5,454.29 557,453.82 557.5,453.35 558,452.88 558.5,452.41 559,451.94 559.5,451.47 560,451 560.5,450.77 561,450.53 561.5,450.3 562,450.07 562.5,449.83 563,449.6 563.5,449.37 564,449.13 564.5,448.9 565,448.67 565.5,448.43 566,448.2 566.5,447.97 567,447.73 567.5,447.5 568,447.27 568.5,447.03 569,446.8 569.5,446.57 570,446.33 570.5,446.1 571,445.87 571.5,445.63 572,445.4 572.5,444.87 573,444.35 573.5,443.82 574,443.29 574.5,442.77 575,442.24 575.5,441.72 576,441.19 576.5,440.66 577,440.14 577.5,439.61 578,439.08 578.5,438.56 579,438.03 579.5,437.51 580,436.98 580.5,436.45 581,435.93 581.5,435.4 582,434.87 582.5,434.35 583,433.82 583.5,433.38 584,433.25 584.5,433.13 585,433.01 585.5,432.88 586,432.76 586.5,432.64 587,432.52 587.5,432.39 588,432.27 588.5,432.15 589,432.03 589.5,431.9 590,431.78 590.5,431.66 591,431.53 591.5,431.41 592,431.29 592.5,431.17 593,431.04 593.5,430.92 594,430.8 594.5,430.67 595,430.55 595.5,430.42 596,430.29 596.5,430.17 597,430.04 597.5,429.91 598,429.78 598.5,429.66 599,429.53 599.5,429.4 600,429.27 600.5,429.15 601,429.02 601.5,428.89 602,428.76 602.5,428.64 603,428.51 603.5,428.38 604,428.25 604.5,428.13 605,428 605.5,427.91 606,427.83 606.5,427.74 607,427.66 607.5,427.57 608,427.49 608.5,427.4 609,427.32 609.5,427.23 610,427.14 610.5,427.06 611,426.97 611.5,426.89 612,426.8 612.5,426.72 613,426.63 613.5,426.55 614,426.46 614.5,426.37 615,426.29 615.5,426.2 616,426.12 616.5,425.5 617,424.76 617.5,424.01 618,423.27 618.5,422.52 619,421.78 619.5,421.03 620,420.28 620.5,419.54 621,418.79 621.5,418.05 622,417.3 622.5,416.56 623,415.81 623.5,415.06 624,414.32 624.5,413.57 625,412.83 625.5,412.08 626,411.34 626.5,410.59 627,409.85 627.5,409.1 628,408.98 628.5,408.86 629,408.74 629.5,408.61 630,408.49 630.5,408.37 631,408.25 631.5,408.13 632,408.01 632.5,407.88 633,407.76 633.5,407.64 634,407.52 634.5,407.4 635,407.28 635.5,407.15 636,407.03 636.5,406.91 637,406.79 637.5,406.67 638,406.55 638.5,406.42 639,404.47 639.5,402.06 640,399.65 640.5,397.25 641,394.84 641.5,392.43 642,390.02 642.5,387.61 643,385.2 643.5,382.79 644,380.38 644.5,377.97 645,375.56 645.5,373.15 646,370.75 646.5,368.34 647,365.93 647.5,363.52 648,361.11 648.5,358.7 649,356.29 649.5,353.88 650,353.33 650.5,353.25 651,353.16 651.5,353.07 652,352.99 652.5,352.9 653,352.82 653.5,352.73 654,352.65 654.5,352.56 655,352.48 655.5,352.39 656,352.3 656.5,352.22 657,352.13 657.5,352.05 658,351.96 658.5,351.88 659,351.79 659.5,351.71 660,351.62 660.5,351.53 661,351.46 661.5,351.4 662,351.34 662.5,351.28 663,351.22 663.5,351.16 664,351.1 664.5,351.04 665,350.97 665.5,350.91 666,350.85 666.5,350.79 667,350.73 667.5,350.67 668,350.61 668.5,350.55 669,350.49 669.5,350.42 670,350.36 670.5,350.3 671,350.24 671.5,350.18 672,350.12 672.5,350.06 673,350 673.5,349.94 674,349.88 674.5,349.81 675,349.75 675.5,349.69 676,349.63 676.5,349.57 677,349.51 677.5,349.45 678,349.39 678.5,349.33 679,349.26 679.5,349.2 680,349.14 680.5,349.08 681,349.02 681.5,348.96 682,348.9 682.5,348.84 683,348.77 683.5,348.69 684,348.6 684.5,348.52 685,348.44 685.5,348.36 686,348.28 686.5,348.19 687,348.11 687.5,348.03 688,347.95 688.5,347.87 689,347.79 689.5,347.7 690,347.62 690.5,347.54 691,347.46 691.5,347.38 692,347.29 692.5,347.21 693,347.13 693.5,347.05 694,346.69 694.5,345.9 695,345.11 695.5,344.33 696,343.54 696.5,342.76 697,341.97 697.5,341.19 698,340.4 698.5,339.61 699,338.83 699.5,338.04 700,337.26 700.5,336.47 701,335.69 701.5,334.9 702,334.11 702.5,333.33 703,332.54 703.5,331.76 704,330.97 704.5,330.19 705,329.4 705.5,328.61 706,327.83 706.5,327.04 707,326.26 707.5,325.47 708,324.72 708.5,324.02 709,323.32 709.5,322.62 710,321.92 710.5,321.23 711,320.53 711.5,319.83 712,319.13 712.5,318.43 713,317.73 713.5,317.03 714,316.33 714.5,315.64 715,314.94 715.5,314.24 716,313.54 716.5,312.84 717,312.6 717.5,312.49 718,312.37 718.5,312.25 719,312.13 719.5,312.01 720,311.89 720.5,311.77 721,311.65 721.5,311.53 722,311.41 722.5,311.29 723,311.17 723.5,311.05 724,310.93 724.5,310.82 725,310.7 725.5,310.58 726,310.46 726.5,310.34 727,310.22 727.5,310.1 728,309.83 728.5,309.57 729,309.3 729.5,309.03 730,308.77 730.5,308.5 731,308.24 731.5,307.97 732,307.7 732.5,307.44 733,307.17 733.5,306.9 734,306.64 734.5,306.37 735,306.1 735.5,305.84 736,305.57 736.5,305.31 737,305.04 737.5,304.77 738,304.51 738.5,304.25 739,304.01 739.5,303.76 740,303.52 740.5,303.27 741,303.02 741.5,302.78 742,302.53 742.5,302.29 743,302.04 743.5,301.8 744,301.55 744.5,301.31 745,301.06 745.5,300.82 746,300.57 746.5,300.32 747,300.08 747.5,299.83 748,299.59 748.5,299.34 749,299.1 749.5,298.9 750,298.88 750.5,298.87 751,298.86 751.5,298.84 752,298.83 752.5,298.81 753,298.8 753.5,298.79 754,298.77 754.5,298.76 755,298.74 755.5,298.73 756,298.72 756.5,298.7 757,298.69 757.5,298.68 758,298.66 758.5,298.65 759,298.63 759.5,298.62 760,298.61 760.5,298.59 761,298.58 761.5,298.56 762,298.55 762.5,298.54 763,298.52 763.5,298.51 764,298.49 764.5,298.48 765,298.47 765.5,298.45 766,298.44 766.5,298.43 767,298.41 767.5,298.4 768,298.38 768.5,298.37 769,298.36 769.5,298.34 770,298.33 770.5,298.31 771,298.3 771.5,298.17 772,298.03 772.5,297.9 773,297.76 773.5,297.62 774,297.49 774.5,297.36 775,297.22 775.5,297.09 776,296.95 776.5,296.81 777,296.68 777.5,296.55 778,296.41 778.5,296.28 779,296.14 779.5,296 780,295.87 780.5,295.74 781,295.6 781.5,295.42 782,295.24 782.5,295.06 783,294.88 783.5,294.7 784,294.52 784.5,294.34 785,294.16 785.5,293.98 786,293.8 786.5,293.62 787,293.44 787.5,293.26 788,293.08 788.5,292.9 789,292.72 789.5,292.54 790,292.36 790.5,292.18 791,292 791.5,291.82 792,291.64 792.5,291.42 793,291.04 793.5,290.67 794,290.29 794.5,289.91 795,289.53 795.5,289.15 796,288.77 796.5,288.39 797,288.01 797.5,287.63 798,287.25 798.5,286.87 799,286.49 799.5,286.11 800,285.73 800.5,285.35 801,284.97 801.5,284.59 802,284.21 802.5,283.83 803,283.46 803.5,283.08 804,283 804.5,283 805,283 805.5,283 806,283 806.5,283 807,283 807.5,283 808,283 808.5,283 809,283 809.5,283 810,283 810.5,283 811,283 811.5,283 812,283 812.5,283 813,283 813.5,283 814,283 814.5,283 815,282.98 815.5,282.89 816,282.79 816.5,282.7 817,282.6 817.5,282.51 818,282.41 818.5,282.32 819,282.22 819.5,282.13 820,282.04 820.5,281.94 821,281.85 821.5,281.75 822,281.66 822.5,281.56 823,281.47 823.5,281.37 824,281.28 824.5,281.18 825,281.09 825.5,280.99 826,280.9 826.5,280.79 827,280.68 827.5,280.57 828,280.46 828.5,280.35 829,280.24 829.5,280.13 830,280.02 830.5,279.91 831,279.8 831.5,279.69 832,279.58 832.5,279.47 833,279.36 833.5,279.26 834,279.15 834.5,279.04 835,278.93 835.5,278.82 836,278.71 836.5,278.6 837,278.49 837.5,278.41 838,278.46 838.5,278.51 839,278.56 839.5,278.61 840,278.66 840.5,278.72 841,278.77 841.5,278.82 842,278.87 842.5,278.92 843,278.97 843.5,279.02 844,279.07 844.5,279.12 845,279.17 845.5,279.22 846,279.28 846.5,279.33 847,279.38 847.5,279.43 848,279.48 848.5,279.74 849,280.15 849.5,280.55 850,280.96 850.5,281.36 851,281.77 851.5,282.18 852,282.58 852.5,282.99 853,283.39 853.5,283.8 854,284.2 854.5,284.61 855,285.01 855.5,285.42 856,285.82 856.5,286.23 857,286.64 857.5,287.04 858,287.45 858.5,287.85 859,288.26 859.5,288.48 860,288.44 860.5,288.4 861,288.35 861.5,288.31 862,288.27 862.5,288.22 863,288.18 863.5,288.14 864,288.09 864.5,288.05 865,288.01 865.5,287.96 866,287.92 866.5,287.88 867,287.83 867.5,287.79 868,287.75 868.5,287.71 869,287.66 869.5,287.62 870,287.58 870.5,287.53 871,287.49 871.5,287.45 872,287.4 872.5,287.36 873,287.32 873.5,287.27 874,287.23 874.5,287.19 875,287.14 875.5,287.1 876,287.06 876.5,287.01 877,286.97 877.5,286.93 878,286.88 878.5,286.84 879,286.8 879.5,286.76 880,286.71 880.5,286.67 881,286.63 881.5,286.6 882,286.6 882.5,286.6 883,286.6 883.5,286.6 884,286.6 884.5,286.6 885,286.6 885.5,286.6 886,286.6 886.5,286.6 887,286.6 887.5,286.6 888,286.6 888.5,286.6 889,286.6 889.5,286.6 890,286.6 890.5,286.6 891,286.6 891.5,286.6 892,286.6 892.5,286.6 893,286.71 893.5,286.84 894,286.98 894.5,287.11 895,287.24 895.5,287.38 896,287.51 896.5,287.65 897,287.78 897.5,287.92 898,288.05 898.5,288.18 899,288.32 899.5,288.45 900,288.59 900.5,288.72 901,288.86 901.5,288.99 902,289.12 902.5,289.26 903,289.39 903.5,289.48 904,289.39 904.5,289.3 905,289.2 905.5,289.11 906,289.02 906.5,288.92 907,288.83 907.5,288.74 908,288.65 908.5,288.55 909,288.46 909.5,288.37 910,288.27 910.5,288.18 911,288.09 911.5,287.99 912,287.9 912.5,287.81 913,287.72 913.5,287.62 914,287.53 914.5,287.44 914.7,287.4 914.7,311.5 914.5,311.5 914,311.5 913.5,311.5 913,311.5 912.5,311.5 912,311.5 911.5,311.5 911,311.5 910.5,311.5 910,311.5 909.5,311.5 909,311.5 908.5,311.5 908,311.5 907.5,311.5 907,311.5 906.5,311.5 906,311.5 905.5,311.5 905,311.5 904.5,311.5 904,311.5 903.5,311.5 903,311.5 902.5,311.5 902,311.5 901.5,311.5 901,311.5 900.5,311.5 900,311.5 899.5,311.5 899,311.5 898.5,311.5 898,311.5 897.5,311.5 897,311.5 896.5,311.5 896,311.5 895.5,311.5 895,311.5 894.5,311.5 894,311.5 893.5,311.5 893,311.5 892.5,311.5 892,311.5 891.5,311.5 891,311.5 890.5,311.5 890,311.5 889.5,311.5 889,311.5 888.5,311.5 888,311.5 887.5,311.5 887,311.5 886.5,311.5 886,311.5 885.5,311.5 885,311.5 884.5,311.5 884,311.5 883.5,311.5 883,311.5 882.5,311.5 882,311.5 881.5,311.5 881,311.5 880.5,311.5 880,311.51 879.5,311.51 879,311.51 878.5,311.51 878,311.51 877.5,311.52 877,311.52 876.5,311.52 876,311.52 875.5,311.53 875,311.53 874.5,311.53 874,311.53 873.5,311.54 873,311.54 872.5,311.54 872,311.54 871.5,311.54 871,311.55 870.5,311.55 870,311.55 869.5,311.55 869,311.56 868.5,311.56 868,311.56 867.5,311.56 867,311.56 866.5,311.57 866,311.57 865.5,311.57 865,311.57 864.5,311.58 864,311.58 863.5,311.58 863,311.58 862.5,311.59 862,311.59 861.5,311.59 861,311.59 860.5,311.59 860,311.6 859.5,311.6 859,311.61 858.5,311.62 858,311.64 857.5,311.65 857,311.66 856.5,311.68 856,311.69 855.5,311.7 855,311.72 854.5,311.73 854,311.75 853.5,311.76 853,311.77 852.5,311.79 852,311.8 851.5,311.81 851,311.83 850.5,311.84 850,311.85 849.5,311.87 849,311.88 848.5,311.9 848,311.91 847.5,311.92 847,311.94 846.5,311.95 846,311.96 845.5,311.98 845,311.99 844.5,312.01 844,312.02 843.5,312.03 843,312.05 842.5,312.06 842,312.07 841.5,312.09 841,312.1 840.5,312.12 840,312.13 839.5,312.14 839,312.16 838.5,312.17 838,312.18 837.5,312.2 837,312.24 836.5,312.28 836,312.32 835.5,312.37 835,312.41 834.5,312.45 834,312.5 833.5,312.54 833,312.59 832.5,312.63 832,312.67 831.5,312.72 831,312.76 830.5,312.81 830,312.85 829.5,312.89 829,312.94 828.5,312.98 828,313.02 827.5,313.07 827,313.11 826.5,313.16 826,313.2 825.5,313.29 825,313.39 824.5,313.48 824,313.58 823.5,313.67 823,313.77 822.5,313.86 822,313.96 821.5,314.05 821,314.15 820.5,314.24 820,314.34 819.5,314.43 819,314.52 818.5,314.62 818,314.71 817.5,314.81 817,314.9 816.5,315 816,315.09 815.5,315.19 815,315.28 814.5,315.33 814,315.36 813.5,315.4 813,315.43 812.5,315.47 812,315.51 811.5,315.54 811,315.58 810.5,315.61 810,315.65 809.5,315.68 809,315.72 808.5,315.75 808,315.79 807.5,315.82 807,315.86 806.5,315.89 806,315.93 805.5,315.97 805,316 804.5,316.04 804,316.07 803.5,316.14 803,316.35 802.5,316.56 802,316.77 801.5,316.98 801,317.19 800.5,317.4 800,317.61 799.5,317.82 799,318.03 798.5,318.24 798,318.45 797.5,318.66 797,318.87 796.5,319.08 796,319.29 795.5,319.5 795,319.71 794.5,319.92 794,320.13 793.5,320.34 793,320.55 792.5,320.76 792,320.84 791.5,320.9 791,320.95 790.5,321.01 790,321.06 789.5,321.12 789,321.17 788.5,321.22 788,321.28 787.5,321.33 787,321.39 786.5,321.44 786,321.5 785.5,321.55 785,321.6 784.5,321.66 784,321.71 783.5,321.77 783,321.81 782.5,321.83 782,321.86 781.5,321.88 781,321.91 780.5,321.93 780,321.96 779.5,321.98 779,322.01 778.5,322.03 778,322.06 777.5,322.08 777,322.1 776.5,322.13 776,322.15 775.5,322.18 775,322.2 774.5,322.23 774,322.25 773.5,322.28 773,322.3 772.5,322.33 772,322.35 771.5,322.38 771,322.4 770.5,322.52 770,322.64 769.5,322.76 769,322.89 768.5,323.01 768,323.13 767.5,323.25 767,323.37 766.5,323.49 766,323.61 765.5,323.73 765,323.86 764.5,323.98 764,324.1 763.5,324.22 763,324.34 762.5,324.46 762,324.58 761.5,324.71 761,324.83 760.5,324.91 760,324.94 759.5,324.96 759,324.99 758.5,325.02 758,325.04 757.5,325.07 757,325.1 756.5,325.12 756,325.15 755.5,325.18 755,325.2 754.5,325.23 754,325.26 753.5,325.28 753,325.31 752.5,325.34 752,325.36 751.5,325.39 751,325.42 750.5,325.44 750,325.47 749.5,325.49 749,325.75 748.5,326.05 748,326.36 747.5,326.67 747,326.98 746.5,327.28 746,327.59 745.5,327.9 745,328.2 744.5,328.51 744,328.82 743.5,329.13 743,329.43 742.5,329.74 742,330.05 741.5,330.36 741,330.66 740.5,330.97 740,331.28 739.5,331.59 739,331.89 738.5,332.2 738,332.2 737.5,332.2 737,332.2 736.5,332.2 736,332.2 735.5,332.2 735,332.2 734.5,332.2 734,332.2 733.5,332.2 733,332.2 732.5,332.2 732,332.2 731.5,332.2 731,332.2 730.5,332.2 730,332.2 729.5,332.2 729,332.2 728.5,332.2 728,332.2 727.5,332.2 727,332.2 726.5,332.2 726,332.2 725.5,332.2 725,332.2 724.5,332.2 724,332.2 723.5,332.2 723,332.2 722.5,332.2 722,332.2 721.5,332.2 721,332.2 720.5,332.2 720,332.2 719.5,332.2 719,332.2 718.5,332.2 718,332.2 717.5,332.2 717,332.2 716.5,332.2 716,332.2 715.5,332.2 715,333.09 714.5,333.98 714,334.88 713.5,335.77 713,336.66 712.5,337.55 712,338.44 711.5,339.33 711,340.23 710.5,341.12 710,342.01 709.5,342.9 709,343.79 708.5,344.68 708,345.58 707.5,346.47 707,347.36 706.5,348.25 706,349.14 705.5,350.03 705,350.93 704.5,351.82 704,352.71 703.5,353.6 703,354.49 702.5,355.38 702,356.28 701.5,357.17 701,358.06 700.5,358.95 700,359.84 699.5,360.73 699,361.63 698.5,362.52 698,363.41 697.5,364.3 697,365.19 696.5,366.08 696,366.98 695.5,367.87 695,368.76 694.5,369.65 694,370.54 693.5,370.9 693,370.9 692.5,370.9 692,370.9 691.5,370.9 691,370.9 690.5,370.9 690,370.9 689.5,370.9 689,370.9 688.5,370.9 688,370.9 687.5,370.9 687,370.9 686.5,370.9 686,370.9 685.5,370.9 685,370.9 684.5,370.9 684,370.9 683.5,370.9 683,370.9 682.5,370.9 682,370.9 681.5,370.9 681,370.9 680.5,370.9 680,370.9 679.5,370.9 679,370.9 678.5,370.9 678,370.9 677.5,370.9 677,370.9 676.5,370.9 676,370.9 675.5,370.9 675,370.9 674.5,370.9 674,370.9 673.5,370.9 673,370.9 672.5,370.9 672,370.9 671.5,370.9 671,370.9 670.5,370.9 670,370.9 669.5,370.9 669,370.9 668.5,370.9 668,370.9 667.5,370.9 667,370.9 666.5,370.9 666,370.9 665.5,370.9 665,370.9 664.5,370.9 664,370.9 663.5,370.9 663,370.9 662.5,370.9 662,370.9 661.5,370.9 661,370.9 660.5,370.9 660,370.9 659.5,370.9 659,370.9 658.5,370.9 658,370.9 657.5,370.9 657,370.9 656.5,370.9 656,370.9 655.5,370.9 655,370.9 654.5,370.9 654,370.9 653.5,370.9 653,370.9 652.5,370.9 652,370.9 651.5,370.9 651,370.9 650.5,370.9 650,370.9 649.5,371.46 649,374.28 648.5,377.1 648,379.92 647.5,382.74 647,385.55 646.5,388.37 646,391.19 645.5,394.01 645,396.83 644.5,399.65 644,402.46 643.5,405.28 643,408.1 642.5,410.92 642,413.74 641.5,416.55 641,419.37 640.5,422.19 640,425.01 639.5,427.83 639,430.65 638.5,432.9 638,432.9 637.5,432.9 637,432.9 636.5,432.9 636,432.9 635.5,432.9 635,432.9 634.5,432.9 634,432.9 633.5,432.9 633,432.9 632.5,432.9 632,432.9 631.5,432.9 631,432.9 630.5,432.9 630,432.9 629.5,432.9 629,432.9 628.5,432.9 628,432.9 627.5,432.9 627,433.83 626.5,434.77 626,435.7 625.5,436.64 625,437.57 624.5,438.51 624,439.44 623.5,440.37 623,441.31 622.5,442.24 622,443.18 621.5,444.11 621,445.04 620.5,445.98 620,446.91 619.5,447.85 619,448.78 618.5,449.72 618,450.65 617.5,451.58 617,452.52 616.5,453.45 616,454.2 615.5,454.2 615,454.2 614.5,454.2 614,454.2 613.5,454.2 613,454.2 612.5,454.2 612,454.2 611.5,454.2 611,454.2 610.5,454.2 610,454.2 609.5,454.2 609,454.2 608.5,454.2 608,454.2 607.5,454.2 607,454.2 606.5,454.2 606,454.2 605.5,454.2 605,454.2 604.5,454.35 604,454.5 603.5,454.65 603,454.8 602.5,454.95 602,455.11 601.5,455.26 601,455.41 600.5,455.56 600,455.71 599.5,455.86 599,456.01 598.5,456.16 598,456.31 597.5,456.46 597,456.62 596.5,456.77 596,456.92 595.5,457.07 595,457.22 594.5,457.37 594,457.49 593.5,457.6 593,457.71 592.5,457.81 592,457.92 591.5,458.03 591,458.14 590.5,458.25 590,458.36 589.5,458.47 589,458.58 588.5,458.69 588,458.8 587.5,458.91 587,459.01 586.5,459.12 586,459.23 585.5,459.34 585,459.45 584.5,459.56 584,459.67 583.5,459.78 583,460.28 582.5,460.89 582,461.49 581.5,462.1 581,462.71 580.5,463.31 580,463.92 579.5,464.52 579,465.13 578.5,465.73 578,466.34 577.5,466.94 577,467.55 576.5,468.15 576,468.76 575.5,469.36 575,469.97 574.5,470.57 574,471.18 573.5,471.78 573,472.39 572.5,472.99 572,473.6 571.5,473.76 571,473.93 570.5,474.09 570,474.25 569.5,474.41 569,474.58 568.5,474.74 568,474.9 567.5,475.06 567,475.23 566.5,475.39 566,475.55 565.5,475.71 565,475.88 564.5,476.04 564,476.2 563.5,476.36 563,476.52 562.5,476.69 562,476.85 561.5,477.01 561,477.18 560.5,477.34 560,477.5 559.5,478.16 559,478.82 558.5,479.47 558,480.13 557.5,480.79 557,481.45 556.5,482.11 556,482.77 555.5,483.42 555,484.08 554.5,484.74 554,485.4 553.5,486.06 553,486.71 552.5,487.37 552,488.03 551.5,488.69 551,489.35 550.5,490.01 550,490.48 549.5,490.68 549,490.88 548.5,491.08 548,491.28 547.5,491.48 547,491.67 546.5,491.87 546,492.07 545.5,492.27 545,492.47 544.5,492.67 544,492.87 543.5,493.07 543,493.27 542.5,493.47 542,493.67 541.5,493.86 541,494.06 540.5,494.26 540,494.46 539.5,494.66 539,494.86 538.5,495.13 538,495.41 537.5,495.7 537,495.99 536.5,496.27 536,496.56 535.5,496.84 535,497.13 534.5,497.41 534,497.7 533.5,497.99 533,498.27 532.5,498.56 532,498.84 531.5,499.13 531,499.41 530.5,499.7 530,499.99 529.5,500.27 529,500.56 528.5,500.84 528,501.13 527.5,501.3 527,501.3 526.5,501.3 526,501.3 525.5,501.3 525,501.3 524.5,501.3 524,501.3 523.5,501.3 523,501.3 522.5,501.3 522,501.3 521.5,501.3 521,501.3 520.5,501.3 520,501.3 519.5,501.3 519,501.3 518.5,501.3 518,501.3 517.5,501.3 517,501.3 516.5,501.3 516,501.3 515.5,501.3 515,501.3 514.5,501.3 514,501.3 513.5,501.3 513,501.3 512.5,501.3 512,501.3 511.5,501.3 511,501.3 510.5,501.3 510,501.3 509.5,501.3 509,501.3 508.5,501.3 508,501.3 507.5,501.3 507,501.3 506.5,501.3 506,501.3 505.5,501.3 505,501.3 504.5,501.3 504,501.3 503.5,501.3 503,501.3 502.5,501.3 502,501.3 501.5,501.3 501,501.3 500.5,501.3 500,501.3 499.5,501.3 499,501.3 498.5,501.3 498,501.3 497.5,501.3 497,501.3 496.5,501.3 496,501.3 495.5,501.3 495,501.3 494.5,501.3 494,501.3 493.5,501.3 493,501.3 492.5,501.3 492,501.3 491.5,501.3 491,501.3 490.5,501.3 490,501.3 489.5,501.3 489,501.3 488.5,501.3 488,501.3 487.5,501.3 487,501.3 486.5,501.3 486,501.3 485.5,501.3 485,501.3 484.5,501.3 484,501.3 483.5,501.3 483,501.3 482.5,501.3 482,501.3 481.5,501.3 481,501.3 480.5,501.3 480,501.3 479.5,501.3 479,501.3 478.5,501.3 478,501.3 477.5,501.3 477,501.3 476.5,501.3 476,501.3 475.5,501.3 475,501.3 474.5,501.3 474,501.3 473.5,501.3 473,501.3 472.5,501.3 472,501.3 471.5,501.3 471,501.3 470.5,501.3 470,501.3 469.5,501.3 469,501.3 468.5,501.3 468,501.3 467.5,501.3 467,501.3 466.5,501.3 466,501.3 465.5,501.3 465,501.3 464.5,501.3 464,501.3 463.5,501.3 463,501.3 462.5,501.3 462,501.3 461.5,501.3 461,501.3 460.5,501.3 460,501.3 459.5,501.3 459,501.3 458.5,501.3 458,501.3 457.5,501.3 457,501.3 456.5,501.3 456,501.3 455.5,501.3 455,501.3 454.5,501.3 454,501.3 453.5,501.3 453,501.3 452.5,501.3 452,501.3 451.5,501.3 451,501.3 450.5,501.3 450,501.3 449.5,501.3 449,501.3 448.5,501.3 448,501.3 447.5,501.3 447,501.3 446.5,501.3 446,501.3 445.5,501.3 445,501.3 444.5,501.3 444,501.3 443.5,501.3 443,501.3 442.5,501.3 442,501.3 441.5,501.3 441,501.3 440.5,501.3 440,501.3 439.5,501.38 439,501.51 438.5,501.65 438,501.78 437.5,501.91 437,502.04 436.5,502.18 436,502.31 435.5,502.44 435,502.57 434.5,502.71 434,502.84 433.5,502.97 433,503.11 432.5,503.24 432,503.37 431.5,503.5 431,503.64 430.5,503.77 430,503.9 429.5,504.03 429,504.17 428.5,504.3 428,504.3 427.5,504.3 427,504.3 426.5,504.3 426,504.3 425.5,504.3 425,504.3 424.5,504.3 424,504.3 423.5,504.3 423,504.3 422.5,504.3 422,504.3 421.5,504.3 421,504.3 420.5,504.3 420,504.3 419.5,504.3 419,504.3 418.5,504.3 418,504.3 417.5,504.3 417,504.3 416.5,504.3 416,504.3 415.5,504.3 415,504.3 414.5,504.3 414,504.3 413.5,504.3 413,504.3 412.5,504.3 412,504.3 411.5,504.3 411,504.3 410.5,504.3 410,504.3 409.5,504.3 409,504.3 408.5,504.3 408,504.3 407.5,504.3 407,504.3 406.5,504.31 406,504.35 405.5,504.39 405,504.43 404.5,504.47 404,504.51 403.5,504.54 403,504.58 402.5,504.62 402,504.66 401.5,504.7 401,504.74 400.5,504.78 400,504.82 399.5,504.86 399,504.9 398.5,504.94 398,504.98 397.5,505.02 397,505.06 396.5,505.1 396,505.14 395.5,505.18 395,505.2 394.5,505.2 394,505.2 393.5,505.2 393,505.2 392.5,505.2 392,505.2 391.5,505.2 391,505.2 390.5,505.2 390,505.2 389.5,505.2 389,505.2 388.5,505.2 388,505.2 387.5,505.2 387,505.2 386.5,505.2 386,505.2 385.5,505.2 385,505.2 384.5,505.2 384,505.2 383.5,505.2 383,505.2 382.5,505.2 382,505.2 381.5,505.2 381,505.2 380.5,505.2 380,505.2 379.5,505.2 379,505.2 378.5,505.2 378,505.2 377.5,505.2 377,505.2 376.5,505.2 376,505.2 375.5,505.2 375,505.2 374.5,505.2 374,505.2 373.5,505.2 373,505.2 372.5,505.2 372,505.1 371.5,504.95 371,504.79 370.5,504.63 370,504.47 369.5,504.31 369,504.15 368.5,503.99 368,503.83 367.5,503.67 367,503.51 366.5,503.35 366,503.19 365.5,503.03 365,502.87 364.5,502.72 364,502.56 363.5,502.4 363,502.24 362.5,502.08 362,501.92 361.5,501.76 361,501.6" fill="#d4f5d4"/>
<polyline points="30.5,490.4 42,490.4 53,494 74.5,496 93.6,497.8 115.7,496.9 141.5,497.8 172.8,496 184.7,517.7 236,517.2 262.7,522.4 284,518.7 295,513.6 306,512.6 317,509 339,507 361,501.6 372.3,502.3 383.5,500.2 395.2,500.2 406.6,487.4 428.5,487.4 439.8,484.7 450.6,484.7 472.5,483.3 483.7,478.6 494.6,475.7 505.2,474 516.4,474 527.7,473 538.9,465.9 550.2,460.2 560,451 572,445.4 583.4,433.4 594.4,430.7 605,428 616.1,426.1 627.5,409.1 638.6,406.4 649.6,353.4 660.7,351.5 682.8,348.8 693.8,347 707.8,325 716.6,312.7 727.5,310.1 738.2,304.4 749.4,298.9 771,298.3 781,295.6 792.4,291.5 803.6,283 814.9,283 826,280.9 837.4,278.4 848.2,279.5 859.3,288.5 881.3,286.6 892.6,286.6 903.4,289.5 914.7,287.4" fill="none" stroke="#a8703c" stroke-width="1.2" stroke-linejoin="round"/>
<polyline points="30.5,504.2 100,504.2 148.8,502.4 190,500 217.6,497 339,497 350,501 361,501.6 372.3,505.2 395.2,505.2 406.6,504.3 428.5,504.3 439.8,501.3 527.7,501.3 538.9,494.9 550.2,490.4 560,477.5 572,473.6 583.4,459.8 594.4,457.4 605,454.2 616.1,454.2 627.5,432.9 638.6,432.9 649.6,370.9 693.8,370.9 715.5,332.2 738.5,332.2 749.4,325.5 760.7,324.9 771,322.4 783.2,321.8 792.4,320.8 803.6,316.1 814.9,315.3 826,313.2 837.4,312.2 859.3,311.6 881.3,311.5 914.7,311.5" fill="none" stroke="#3f8f3f" stroke-width="1.2" stroke-linejoin="round"/>
<polyline points="30.5,395 41.2,395 52.3,368.3 63.1,374 74.2,305.5 85.4,314 96.9,327.8 107.3,325.1 118.1,305.5 129.3,274.5 140.4,254.9 151.9,285.3 162.7,270.4 173.8,248.5 184.9,254.2 195.7,259.6 207.2,252.6 218.4,249.9 229.5,258.6 240.3,277.9 251.4,255.3 262.6,252.6 273.4,284.6 284.5,321.7 295.6,314.3 306.4,314.3 317.6,303.5 328.5,315.2 339.6,319.6" fill="none" stroke="#8a63d2" stroke-width="1.1" stroke-linejoin="round"/>
<polyline points="30.5,505 74.5,499.6 115.7,496.9 148.8,492.3 176.5,490.4 190,489.6 208.4,487.8 219.4,485 241.5,480.4 278.3,470.3 318.8,456.5 339,450.4 350,448.2 360,442.4 376.4,430.1 406.6,410.7 421.3,398.4 443.8,380 462,366 480,352 506.8,335.4 543.6,309.6 565,304.8 578,301.3 595.4,297 617.1,293.5 626,293 914.5,293" fill="none" stroke="#22ee22" stroke-width="1.25" stroke-linejoin="round"/>
<polyline points="30.5,508 53,505 66,501.5 93.6,494 112,489.5 130.4,483 148.8,478.5 176.5,474.8 190,474 226.8,469.4 263.6,460.2 300.4,448.2 341,429.8 350,427 360,417.8 372.3,403.5 388.3,385.7 410.4,365.2 420,355 438.3,335.7 447.2,328 470,307.8 494,287.6 516,274.7 554.7,263.6 567.6,262.2 582.4,264.8 608.5,270 625.8,273.3 914.5,273.3" fill="none" stroke="#ff2a2a" stroke-width="1.2" stroke-linejoin="round"/>
<polyline points="30.5,517.7 107.4,517.7 118.8,504.2 141.5,504.2 150.7,501.5 176.5,500.6 184.7,499.3 195.5,489.6 206.6,488.7 217.6,485 228.6,485 240.2,483 251.5,471.8 262.7,465.2 274,453.9 284.2,448.8 296.5,436.5 317.9,431.4 328.2,431.4 339,414.2 351,413.3 361.3,358.6 387.1,358.1 406.4,356.6 428.8,321.2 451,321.2 462,314.8 505,314.2 516,306.9 540,304 565,301.3 591.1,297.4 618.9,294.3 627,292.5" fill="none" stroke="#6a6af5" stroke-width="1.15" stroke-linejoin="round"/>
<polyline points="30.5,500.5 53,497.8 64,491.4 74.5,489 97.3,485 123,472 139.6,472 167,469.3 200,467.4 206.6,463.9 235.1,464.1 245.3,461.6 256.6,458 262.7,455.4 274,445.7 283.2,442.1 296.5,429.4 317.9,423.7 328.2,421.7 336.8,410 339.3,404 350.3,399.8 354,388.2 361.3,348.9 378.5,343.4 398.2,341.5 407.6,335.7 428,305.6 439.3,300 450.6,289.7 461.8,284.6 483,284.2 494,280.2 506.8,271 516,262.7 527,260.5 543.6,258 554.7,259 565.9,268.3 572,277.4 605,277.4 616.3,284.8 627.6,284.8" fill="none" stroke="#119911" stroke-width="1.15" stroke-linejoin="round"/>
<polyline points="30.5,486.8 53,485.8 74.5,485.8 101,488.6 112,487.7 123,483 139.6,473.3 167.5,460.4 178.7,461 190,463 208.4,465.7 234.2,469.4 263.6,456.5 295,430.7 318.8,411.4 341.7,396.7 350.3,394.3 355.2,385.7 372.4,360 385.9,342.8 398.2,329.3 410.4,314.5 428.8,302.3 440,294 470,266.4 494,261 510.5,254.4 516,253.5 540,255.3 565.9,260.9 580.4,272.5 595.4,283.9 615.4,304.3 625.8,307.8" fill="none" stroke="#2222f0" stroke-width="1.2" stroke-linejoin="round"/>
<line x1="625.5" y1="308.1" x2="914.7" y2="308.1" stroke="#5563e6" stroke-width="1.8"/>
<line x1="30.5" y1="473.9" x2="30.5" y2="488.6" stroke="#000" stroke-width="1"/>
<rect x="25.5" y="482.5" width="10" height="3" fill="#3ee83e" stroke="#000" stroke-width="1"/>
<line x1="41.5" y1="478.1" x2="41.5" y2="490.4" stroke="#000" stroke-width="1"/>
<rect x="36.5" y="482.5" width="10" height="5" fill="#f04444" stroke="#000" stroke-width="1"/>
<line x1="52.5" y1="483" x2="52.5" y2="492.6" stroke="#000" stroke-width="1"/>
<rect x="47.0" y="485.2" width="11" height="1.6" fill="#000"/>
<line x1="63.5" y1="480.9" x2="63.5" y2="493.6" stroke="#000" stroke-width="1"/>
<rect x="58.5" y="487.5" width="10" height="3" fill="#f04444" stroke="#000" stroke-width="1"/>
<line x1="74.5" y1="488.5" x2="74.5" y2="492.6" stroke="#000" stroke-width="1"/>
<rect x="69.0" y="490.2" width="11" height="2.6" fill="#000"/>
<line x1="85.5" y1="485.3" x2="85.5" y2="491.4" stroke="#000" stroke-width="1"/>
<rect x="80.5" y="488.5" width="10" height="3" fill="#3ee83e" stroke="#000" stroke-width="1"/>
<line x1="96.5" y1="486.8" x2="96.5" y2="491.7" stroke="#000" stroke-width="1"/>
<rect x="91.0" y="489.2" width="11" height="1.6" fill="#000"/>
<line x1="107.5" y1="476" x2="107.5" y2="489.1" stroke="#000" stroke-width="1"/>
<rect x="102.5" y="479.5" width="10" height="10" fill="#3ee83e" stroke="#000" stroke-width="1"/>
<line x1="118.5" y1="454.2" x2="118.5" y2="479.4" stroke="#000" stroke-width="1"/>
<rect x="113.5" y="464.5" width="10" height="15" fill="#3ee83e" stroke="#000" stroke-width="1"/>
<line x1="129.5" y1="456" x2="129.5" y2="466.9" stroke="#000" stroke-width="1"/>
<rect x="124.5" y="459.5" width="10" height="5" fill="#3ee83e" stroke="#000" stroke-width="1"/>
<line x1="140.5" y1="454.5" x2="140.5" y2="464.7" stroke="#000" stroke-width="1"/>
<rect x="135.5" y="456.5" width="10" height="2" fill="#3ee83e" stroke="#000" stroke-width="1"/>
<line x1="151.5" y1="450.3" x2="151.5" y2="461" stroke="#000" stroke-width="1"/>
<rect x="146.5" y="456.5" width="10" height="2" fill="#f04444" stroke="#000" stroke-width="1"/>
<line x1="162.5" y1="455.8" x2="162.5" y2="464.7" stroke="#000" stroke-width="1"/>
<rect x="157.0" y="458.2" width="11" height="2.6" fill="#000"/>
<line x1="173.5" y1="454.2" x2="173.5" y2="479.4" stroke="#000" stroke-width="1"/>
<rect x="168.5" y="459.5" width="10" height="15" fill="#f04444" stroke="#000" stroke-width="1"/>
<line x1="184.5" y1="470.7" x2="184.5" y2="479.4" stroke="#000" stroke-width="1"/>
<rect x="179.0" y="474.2" width="11" height="1.6" fill="#000"/>
<line x1="195.5" y1="466" x2="195.5" y2="474.5" stroke="#000" stroke-width="1"/>
<rect x="190.5" y="467.5" width="10" height="7" fill="#3ee83e" stroke="#000" stroke-width="1"/>
<line x1="207.5" y1="465.7" x2="207.5" y2="476.8" stroke="#000" stroke-width="1"/>
<rect x="202.5" y="467.5" width="10" height="2" fill="#f04444" stroke="#000" stroke-width="1"/>
<line x1="218.5" y1="466" x2="218.5" y2="473.4" stroke="#000" stroke-width="1"/>
<rect x="213.0" y="470.2" width="11" height="1.6" fill="#000"/>
<line x1="229.5" y1="460" x2="229.5" y2="471.2" stroke="#000" stroke-width="1"/>
<rect x="224.5" y="462.5" width="10" height="8" fill="#3ee83e" stroke="#000" stroke-width="1"/>
<line x1="240.5" y1="458" x2="240.5" y2="463.5" stroke="#000" stroke-width="1"/>
<rect x="235.0" y="461.2" width="11" height="1.6" fill="#000"/>
<line x1="251.5" y1="440.9" x2="251.5" y2="461" stroke="#000" stroke-width="1"/>
<rect x="246.5" y="444.5" width="10" height="17" fill="#3ee83e" stroke="#000" stroke-width="1"/>
<line x1="262.5" y1="435.3" x2="262.5" y2="447" stroke="#000" stroke-width="1"/>
<rect x="257.5" y="438.5" width="10" height="6" fill="#3ee83e" stroke="#000" stroke-width="1"/>
<line x1="273.5" y1="419.3" x2="273.5" y2="442.3" stroke="#000" stroke-width="1"/>
<rect x="268.5" y="422.5" width="10" height="16" fill="#3ee83e" stroke="#000" stroke-width="1"/>
<line x1="284.5" y1="414.2" x2="284.5" y2="427.6" stroke="#000" stroke-width="1"/>
<rect x="279.5" y="418.5" width="10" height="4" fill="#3ee83e" stroke="#000" stroke-width="1"/>
<line x1="295.5" y1="396.3" x2="295.5" y2="419.3" stroke="#000" stroke-width="1"/>
<rect x="290.5" y="398.5" width="10" height="20" fill="#3ee83e" stroke="#000" stroke-width="1"/>
<line x1="306.5" y1="393" x2="306.5" y2="415.6" stroke="#000" stroke-width="1"/>
<rect x="301.5" y="399.5" width="10" height="2" fill="#f04444" stroke="#000" stroke-width="1"/>
<line x1="317.5" y1="390.4" x2="317.5" y2="402.3" stroke="#000" stroke-width="1"/>
<rect x="312.5" y="395.5" width="10" height="7" fill="#3ee83e" stroke="#000" stroke-width="1"/>
<line x1="328.5" y1="393" x2="328.5" y2="405.5" stroke="#000" stroke-width="1"/>
<rect x="323.0" y="394.2" width="11" height="1.6" fill="#000"/>
<line x1="339.5" y1="368.5" x2="339.5" y2="395.3" stroke="#000" stroke-width="1"/>
<rect x="334.5" y="368.5" width="10" height="27" fill="#3ee83e" stroke="#000" stroke-width="1"/>
<line x1="350.5" y1="369.5" x2="350.5" y2="376.9" stroke="#000" stroke-width="1"/>
<rect x="345.5" y="369.5" width="10" height="5" fill="#f04444" stroke="#000" stroke-width="1"/>
<line x1="361.5" y1="298" x2="361.5" y2="331.1" stroke="#000" stroke-width="1"/>
<rect x="356.5" y="305.5" width="10" height="26" fill="#3ee83e" stroke="#000" stroke-width="1"/>
<line x1="372.5" y1="299.8" x2="372.5" y2="333" stroke="#000" stroke-width="1"/>
<rect x="367.5" y="305.5" width="10" height="8" fill="#f04444" stroke="#000" stroke-width="1"/>
<line x1="384.5" y1="307.2" x2="384.5" y2="336" stroke="#000" stroke-width="1"/>
<rect x="379.5" y="313.5" width="10" height="15" fill="#f04444" stroke="#000" stroke-width="1"/>
<line x1="395.5" y1="305.3" x2="395.5" y2="336" stroke="#000" stroke-width="1"/>
<rect x="390.5" y="325.5" width="10" height="2" fill="#3ee83e" stroke="#000" stroke-width="1"/>
<line x1="406.5" y1="298" x2="406.5" y2="328.7" stroke="#000" stroke-width="1"/>
<rect x="401.5" y="305.5" width="10" height="20" fill="#3ee83e" stroke="#000" stroke-width="1"/>
<line x1="417.5" y1="273.8" x2="417.5" y2="307.8" stroke="#000" stroke-width="1"/>
<rect x="412.5" y="274.5" width="10" height="30" fill="#3ee83e" stroke="#000" stroke-width="1"/>
<line x1="428.5" y1="252.3" x2="428.5" y2="282" stroke="#000" stroke-width="1"/>
<rect x="423.5" y="255.5" width="10" height="18" fill="#3ee83e" stroke="#000" stroke-width="1"/>
<line x1="439.5" y1="254" x2="439.5" y2="290.3" stroke="#000" stroke-width="1"/>
<rect x="434.5" y="255.5" width="10" height="29" fill="#f04444" stroke="#000" stroke-width="1"/>
<line x1="450.5" y1="266" x2="450.5" y2="284" stroke="#000" stroke-width="1"/>
<rect x="445.5" y="270.5" width="10" height="14" fill="#3ee83e" stroke="#000" stroke-width="1"/>
<line x1="461.5" y1="245" x2="461.5" y2="270.2" stroke="#000" stroke-width="1"/>
<rect x="456.5" y="248.5" width="10" height="22" fill="#3ee83e" stroke="#000" stroke-width="1"/>
<line x1="472.5" y1="247" x2="472.5" y2="263.7" stroke="#000" stroke-width="1"/>
<rect x="467.5" y="248.5" width="10" height="6" fill="#f04444" stroke="#000" stroke-width="1"/>
<line x1="483.5" y1="252" x2="483.5" y2="271" stroke="#000" stroke-width="1"/>
<rect x="478.5" y="254.5" width="10" height="4" fill="#f04444" stroke="#000" stroke-width="1"/>
<line x1="494.5" y1="250" x2="494.5" y2="262" stroke="#000" stroke-width="1"/>
<rect x="489.5" y="252.5" width="10" height="7" fill="#3ee83e" stroke="#000" stroke-width="1"/>
<line x1="505.5" y1="246.2" x2="505.5" y2="258.1" stroke="#000" stroke-width="1"/>
<rect x="500.5" y="249.5" width="10" height="4" fill="#3ee83e" stroke="#000" stroke-width="1"/>
<line x1="516.5" y1="245" x2="516.5" y2="266.4" stroke="#000" stroke-width="1"/>
<rect x="511.5" y="249.5" width="10" height="9" fill="#f04444" stroke="#000" stroke-width="1"/>
<line x1="527.5" y1="254" x2="527.5" y2="279.5" stroke="#000" stroke-width="1"/>
<rect x="522.5" y="256.5" width="10" height="22" fill="#f04444" stroke="#000" stroke-width="1"/>
<line x1="538.5" y1="253" x2="538.5" y2="279" stroke="#000" stroke-width="1"/>
<rect x="533.5" y="255.5" width="10" height="23" fill="#3ee83e" stroke="#000" stroke-width="1"/>
<line x1="549.5" y1="250.3" x2="549.5" y2="264.9" stroke="#000" stroke-width="1"/>
<rect x="544.5" y="253.5" width="10" height="3" fill="#3ee83e" stroke="#000" stroke-width="1"/>
<line x1="560.5" y1="251.8" x2="560.5" y2="287.3" stroke="#000" stroke-width="1"/>
<rect x="555.5" y="253.5" width="10" height="31" fill="#f04444" stroke="#000" stroke-width="1"/>
<line x1="572.5" y1="281.1" x2="572.5" y2="332.8" stroke="#000" stroke-width="1"/>
<rect x="567.5" y="283.5" width="10" height="39" fill="#f04444" stroke="#000" stroke-width="1"/>
<line x1="583.5" y1="299" x2="583.5" y2="324" stroke="#000" stroke-width="1"/>
<rect x="578.5" y="314.5" width="10" height="6" fill="#3ee83e" stroke="#000" stroke-width="1"/>
<line x1="594.5" y1="301.8" x2="594.5" y2="320.6" stroke="#000" stroke-width="1"/>
<rect x="589.0" y="314.2" width="11" height="1.6" fill="#000"/>
<line x1="605.5" y1="303.3" x2="605.5" y2="332.8" stroke="#000" stroke-width="1"/>
<rect x="600.5" y="303.5" width="10" height="13" fill="#3ee83e" stroke="#000" stroke-width="1"/>
<line x1="616.5" y1="296.8" x2="616.5" y2="324" stroke="#000" stroke-width="1"/>
<rect x="611.5" y="305.5" width="10" height="10" fill="#f04444" stroke="#000" stroke-width="1"/>
<line x1="627.5" y1="315.3" x2="627.5" y2="321.7" stroke="#000" stroke-width="1"/>
<rect x="622.5" y="315.5" width="10" height="4" fill="#f04444" stroke="#000" stroke-width="1"/>
<line x1="353.5" y1="338.5" x2="932" y2="338.5" stroke="#000" stroke-width="3.8" stroke-linecap="round"/>
<line x1="326" y1="366.3" x2="933.5" y2="366.3" stroke="#e8202a" stroke-width="4.4" stroke-linecap="round"/>
<line x1="514.6" y1="235.9" x2="859.5" y2="335.5" stroke="#e8202a" stroke-width="5" stroke-linecap="round"/>
<ellipse cx="354" cy="358" rx="37.2" ry="25.5" fill="none" stroke="#e8202a" stroke-width="4.2" transform="rotate(6 354 358)"/>
<polyline points="354.6,296.2 376.8,292.6 404.4,291.4 437.5,291.4 448.6,283 465.2,273 480,261 490,253.2 499.7,246.4 509.5,235.7 512.6,228.9 515.3,241.6 518.9,245.1 529.1,248.2 537.3,253.3 542.4,260.4 545.4,269.7 551.6,278.9 564.9,296.2 578,295.2 591.1,290.8 610.2,290.4 624.1,290.8 631,293.5 641,296.5" fill="none" stroke="#3f4fc8" stroke-width="3.9" stroke-linecap="round" stroke-linejoin="round"/>
<polyline points="409.6,255.8 398.8,258.6 397.4,262.2 397.8,267.6 405.5,271.6 407.2,280.6 402.3,285 392.6,286.3" fill="none" stroke="#3f4fc8" stroke-width="3.9" stroke-linecap="round" stroke-linejoin="round"/>
<polyline points="597.2,265.2 591.1,264.3 585.9,266.5 584.6,270.9 587.6,276.1 592.8,279.6 593.2,284.8 590.2,287.8 581.5,288.2" fill="none" stroke="#3f4fc8" stroke-width="3.9" stroke-linecap="round" stroke-linejoin="round"/>
<line x1="507" y1="197" x2="507" y2="221.8" stroke="#3f4fc8" stroke-width="4.2" stroke-linecap="round"/>
<polyline points="515.3,202.6 509.5,209.5 514.3,213.3 517.2,219.2 521.1,224" fill="none" stroke="#3f4fc8" stroke-width="3.9" stroke-linecap="round" stroke-linejoin="round"/>
<line x1="30.5" y1="590.5" x2="30.5" y2="669.5" stroke="#d9d9d9" stroke-width="1"/>
<line x1="74.5" y1="590.5" x2="74.5" y2="669.5" stroke="#d9d9d9" stroke-width="1"/>
<line x1="118.5" y1="590.5" x2="118.5" y2="669.5" stroke="#d9d9d9" stroke-width="1"/>
<line x1="173.5" y1="590.5" x2="173.5" y2="669.5" stroke="#d9d9d9" stroke-width="1"/>
<line x1="218.5" y1="590.5" x2="218.5" y2="669.5" stroke="#d9d9d9" stroke-width="1"/>
<line x1="262.5" y1="590.5" x2="262.5" y2="669.5" stroke="#d9d9d9" stroke-width="1"/>
<line x1="317.5" y1="590.5" x2="317.5" y2="669.5" stroke="#d9d9d9" stroke-width="1"/>
<line x1="361.5" y1="590.5" x2="361.5" y2="669.5" stroke="#d9d9d9" stroke-width="1"/>
<line x1="406.5" y1="590.5" x2="406.5" y2="669.5" stroke="#d9d9d9" stroke-width="1"/>
<line x1="450.5" y1="590.5" x2="450.5" y2="669.5" stroke="#d9d9d9" stroke-width="1"/>
<line x1="494.5" y1="590.5" x2="494.5" y2="669.5" stroke="#d9d9d9" stroke-width="1"/>
<line x1="538.5" y1="590.5" x2="538.5" y2="669.5" stroke="#d9d9d9" stroke-width="1"/>
<line x1="594.5" y1="590.5" x2="594.5" y2="669.5" stroke="#d9d9d9" stroke-width="1"/>
<line x1="638.5" y1="590.5" x2="638.5" y2="669.5" stroke="#d9d9d9" stroke-width="1"/>
<line x1="682.5" y1="590.5" x2="682.5" y2="669.5" stroke="#d9d9d9" stroke-width="1"/>
<line x1="737.5" y1="590.5" x2="737.5" y2="669.5" stroke="#d9d9d9" stroke-width="1"/>
<line x1="782.5" y1="590.5" x2="782.5" y2="669.5" stroke="#d9d9d9" stroke-width="1"/>
<line x1="826.5" y1="590.5" x2="826.5" y2="669.5" stroke="#d9d9d9" stroke-width="1"/>
<line x1="881.5" y1="590.5" x2="881.5" y2="669.5" stroke="#d9d9d9" stroke-width="1"/>
<line x1="24.5" y1="616.5" x2="920.5" y2="616.5" stroke="#d9d9d9" stroke-width="1"/>
<line x1="24.5" y1="643.5" x2="920.5" y2="643.5" stroke="#d9d9d9" stroke-width="1"/>
<rect x="24.5" y="590.5" width="896.0" height="79.0" fill="none" stroke="#d9d9d9" stroke-width="1"/>
<rect x="25.5" y="577.5" width="7" height="7" fill="#c0c0c0" stroke="#222" stroke-width="1"/>
<text x="37.2" y="584.7" font-size="10.4" fill="#111" textLength="88.8" lengthAdjust="spacingAndGlyphs">BTC/USD Volumen</text>
<text x="923.8" y="593.8" font-size="10.8" fill="#111" textLength="37.6" lengthAdjust="spacingAndGlyphs">3.000Mr</text>
<text x="923.8" y="619.8" font-size="10.8" fill="#111" textLength="37.6" lengthAdjust="spacingAndGlyphs">2.000Mr</text>
<text x="923.8" y="646.8" font-size="10.8" fill="#111" textLength="37.6" lengthAdjust="spacingAndGlyphs">1.000Mr</text>
<text x="923.8" y="672.8" font-size="10.8" fill="#111" textLength="23.6" lengthAdjust="spacingAndGlyphs">0Mrd</text>
<rect x="26" y="662.7" width="8" height="7" fill="#66d966"/>
<rect x="37" y="665" width="8" height="4.7" fill="#dc6868"/>
<rect x="48" y="666" width="8" height="3.7" fill="#66d966"/>
<rect x="59" y="666" width="8" height="3.7" fill="#dc6868"/>
<rect x="70" y="667.3" width="8" height="2.4" fill="#dc6868"/>
<rect x="81" y="667.3" width="8" height="2.4" fill="#66d966"/>
<rect x="92" y="668.3" width="8" height="1.4" fill="#dc6868"/>
<rect x="103" y="666" width="8" height="3.7" fill="#66d966"/>
<rect x="114" y="659.1" width="8" height="10.6" fill="#66d966"/>
<rect x="125" y="665" width="8" height="4.7" fill="#66d966"/>
<rect x="136" y="662.7" width="8" height="7" fill="#66d966"/>
<rect x="147" y="661.7" width="8" height="8" fill="#dc6868"/>
<rect x="158" y="666" width="8" height="3.7" fill="#dc6868"/>
<rect x="169" y="660.7" width="8" height="9" fill="#dc6868"/>
<rect x="180" y="665" width="8" height="4.7" fill="#dc6868"/>
<rect x="191" y="665" width="8" height="4.7" fill="#66d966"/>
<rect x="203" y="666" width="8" height="3.7" fill="#dc6868"/>
<rect x="214" y="666" width="8" height="3.7" fill="#dc6868"/>
<rect x="225" y="667.3" width="8" height="2.4" fill="#66d966"/>
<rect x="236" y="666" width="8" height="3.7" fill="#66d966"/>
<rect x="247" y="662.7" width="8" height="7" fill="#66d966"/>
<rect x="258" y="662.7" width="8" height="7" fill="#66d966"/>
<rect x="269" y="656.8" width="8" height="12.9" fill="#66d966"/>
<rect x="280" y="660.1" width="8" height="9.6" fill="#66d966"/>
<rect x="291" y="656.8" width="8" height="12.9" fill="#66d966"/>
<rect x="302" y="651.9" width="8" height="17.8" fill="#dc6868"/>
<rect x="313" y="655.8" width="8" height="13.9" fill="#66d966"/>
<rect x="324" y="661.7" width="8" height="8" fill="#dc6868"/>
<rect x="335" y="650.9" width="8" height="18.8" fill="#66d966"/>
<rect x="346" y="665" width="8" height="4.7" fill="#dc6868"/>
<rect x="357" y="630" width="8" height="39.7" fill="#66d966"/>
<rect x="368" y="617.9" width="8" height="51.8" fill="#dc6868"/>
<rect x="380" y="644" width="8" height="25.7" fill="#dc6868"/>
<rect x="391" y="644.7" width="8" height="25" fill="#66d966"/>
<rect x="402" y="652.9" width="8" height="16.8" fill="#66d966"/>
<rect x="413" y="635.9" width="8" height="33.8" fill="#66d966"/>
<rect x="424" y="639.1" width="8" height="30.6" fill="#66d966"/>
<rect x="435" y="613.9" width="8" height="55.8" fill="#dc6868"/>
<rect x="446" y="642.1" width="8" height="27.6" fill="#66d966"/>
<rect x="457" y="635.9" width="8" height="33.8" fill="#66d966"/>
<rect x="468" y="634.9" width="8" height="34.8" fill="#dc6868"/>
<rect x="479" y="647" width="8" height="22.7" fill="#dc6868"/>
<rect x="490" y="651.9" width="8" height="17.8" fill="#66d966"/>
<rect x="501" y="652.9" width="8" height="16.8" fill="#66d966"/>
<rect x="512" y="643.1" width="8" height="26.6" fill="#dc6868"/>
<rect x="523" y="644.7" width="8" height="25" fill="#dc6868"/>
<rect x="534" y="651.9" width="8" height="17.8" fill="#66d966"/>
<rect x="545" y="650.3" width="8" height="19.4" fill="#66d966"/>
<rect x="556" y="653.9" width="8" height="15.8" fill="#dc6868"/>
<rect x="568" y="654.8" width="8" height="14.9" fill="#dc6868"/>
<rect x="579" y="666" width="8" height="3.7" fill="#66d966"/>
<rect x="590" y="667.9" width="8" height="1.8" fill="#dc6868"/>
<rect x="601" y="667.3" width="8" height="2.4" fill="#66d966"/>
<rect x="612" y="662.1" width="8" height="7.6" fill="#dc6868"/>
<rect x="623" y="667.9" width="8" height="1.8" fill="#dc6868"/>
<line x1="30.5" y1="694.5" x2="30.5" y2="813.5" stroke="#d9d9d9" stroke-width="1"/>
<line x1="74.5" y1="694.5" x2="74.5" y2="813.5" stroke="#d9d9d9" stroke-width="1"/>
<line x1="118.5" y1="694.5" x2="118.5" y2="813.5" stroke="#d9d9d9" stroke-width="1"/>
<line x1="173.5" y1="694.5" x2="173.5" y2="813.5" stroke="#d9d9d9" stroke-width="1"/>
<line x1="218.5" y1="694.5" x2="218.5" y2="813.5" stroke="#d9d9d9" stroke-width="1"/>
<line x1="262.5" y1="694.5" x2="262.5" y2="813.5" stroke="#d9d9d9" stroke-width="1"/>
<line x1="317.5" y1="694.5" x2="317.5" y2="813.5" stroke="#d9d9d9" stroke-width="1"/>
<line x1="361.5" y1="694.5" x2="361.5" y2="813.5" stroke="#d9d9d9" stroke-width="1"/>
<line x1="406.5" y1="694.5" x2="406.5" y2="813.5" stroke="#d9d9d9" stroke-width="1"/>
<line x1="450.5" y1="694.5" x2="450.5" y2="813.5" stroke="#d9d9d9" stroke-width="1"/>
<line x1="494.5" y1="694.5" x2="494.5" y2="813.5" stroke="#d9d9d9" stroke-width="1"/>
<line x1="538.5" y1="694.5" x2="538.5" y2="813.5" stroke="#d9d9d9" stroke-width="1"/>
<line x1="594.5" y1="694.5" x2="594.5" y2="813.5" stroke="#d9d9d9" stroke-width="1"/>
<line x1="638.5" y1="694.5" x2="638.5" y2="813.5" stroke="#d9d9d9" stroke-width="1"/>
<line x1="682.5" y1="694.5" x2="682.5" y2="813.5" stroke="#d9d9d9" stroke-width="1"/>
<line x1="737.5" y1="694.5" x2="737.5" y2="813.5" stroke="#d9d9d9" stroke-width="1"/>
<line x1="782.5" y1="694.5" x2="782.5" y2="813.5" stroke="#d9d9d9" stroke-width="1"/>
<line x1="826.5" y1="694.5" x2="826.5" y2="813.5" stroke="#d9d9d9" stroke-width="1"/>
<line x1="881.5" y1="694.5" x2="881.5" y2="813.5" stroke="#d9d9d9" stroke-width="1"/>
<line x1="24.5" y1="718.5" x2="920.5" y2="718.5" stroke="#d9d9d9" stroke-width="1"/>
<line x1="24.5" y1="742.5" x2="920.5" y2="742.5" stroke="#d9d9d9" stroke-width="1"/>
<line x1="24.5" y1="765.5" x2="920.5" y2="765.5" stroke="#d9d9d9" stroke-width="1"/>
<line x1="24.5" y1="789.5" x2="920.5" y2="789.5" stroke="#d9d9d9" stroke-width="1"/>
<rect x="24.5" y="694.5" width="896.0" height="119.0" fill="none" stroke="#d9d9d9" stroke-width="1"/>
<rect x="25.5" y="682.5" width="7" height="7" fill="#1f7070" stroke="#222" stroke-width="1"/>
<text x="36.4" y="688.9" font-size="11" fill="#111" textLength="161.8" lengthAdjust="spacingAndGlyphs">Slow Stochastic %K (14): 15,554</text>
<rect x="222.5" y="682.5" width="7" height="7" fill="#6e6e14" stroke="#222" stroke-width="1"/>
<text x="233.3" y="688.9" font-size="11" fill="#111" textLength="73.8" lengthAdjust="spacingAndGlyphs">%D (3): 16,524</text>
<text x="923.8" y="697.7" font-size="11" fill="#111">100</text>
<text x="923.8" y="721.7" font-size="11" fill="#111">80</text>
<text x="923.8" y="745.7" font-size="11" fill="#111">60</text>
<text x="923.8" y="768.7" font-size="11" fill="#111">40</text>
<text x="923.8" y="792.7" font-size="11" fill="#111">20</text>
<text x="923.8" y="816.7" font-size="11" fill="#111">0</text>
<polyline points="30.5,713.3 41.3,709.4 52,710 62.5,712.6 74,717.5 84.8,722.4 96.2,726.4 107.4,725.7 118.2,723.4 129.6,717.5 141.1,713.6 151.9,710.3 162.3,710.3 173.8,720.2 184.6,733.2 195.7,748.6 207.2,754.5 218,755.2 228.8,750.9 239.9,745.4 251,735.5 262.1,724.1 273.6,712 284.4,705.4 295.5,701.8 306.6,702.8 317.8,703.1 330,703.8 362,703.8 372.5,706.1 384,711 395.4,717.5 406.2,721.8 417.4,719.2 428.2,711 439.6,706.1 451.1,707.7 461.9,712.6 472.3,712 483.8,709.4 494.6,706.7 505.7,706.7 517.2,708.4 528,714.3 538.8,723.4 549.9,729 561,734.6 572.1,745.4 582.6,766.6 593.8,787.2 604.9,795.1 616.3,795.1 627.1,793.8" fill="none" stroke="#77771e" stroke-width="1.1" stroke-linejoin="round"/>
<polyline points="30.5,710.3 41.3,708.4 52,711.6 62.5,717.5 74,723.4 84.8,727.4 96.2,729 107.4,721.8 118.2,719.2 129.6,712 141.1,709.4 151.9,709.4 162.3,713.6 173.8,735.5 184.6,750.9 195.7,759.4 207.2,753.5 218,750.9 228.8,747 239.9,740.4 251,722.4 262.1,712.6 273.6,702.8 284.4,702.8 295.5,701.2 306.6,703.8 317.8,703.8 330,705.1 340.5,702.8 351.3,703.8 362,704.5 372.5,709.4 384,716.9 395.4,725.7 406.2,722.4 417.4,711 428.2,700.2 439.6,707.7 451.1,714.9 461.9,715.2 472.3,706.7 483.8,705.4 494.6,707.7 505.7,706.7 517.2,711 528,725.7 538.8,732.3 549.9,730 561,739.8 572.1,764 582.6,789.5 593.8,797.7 604.9,792.8 616.3,793.5 627.1,795.1" fill="none" stroke="#23807f" stroke-width="1.1" stroke-linejoin="round"/>
<ellipse cx="647.9" cy="767" rx="83" ry="44" fill="none" stroke="#21ad4b" stroke-width="8.5"/>
<line x1="30.5" y1="838.5" x2="30.5" y2="957.5" stroke="#d9d9d9" stroke-width="1"/>
<line x1="74.5" y1="838.5" x2="74.5" y2="957.5" stroke="#d9d9d9" stroke-width="1"/>
<line x1="118.5" y1="838.5" x2="118.5" y2="957.5" stroke="#d9d9d9" stroke-width="1"/>
<line x1="173.5" y1="838.5" x2="173.5" y2="957.5" stroke="#d9d9d9" stroke-width="1"/>
<line x1="218.5" y1="838.5" x2="218.5" y2="957.5" stroke="#d9d9d9" stroke-width="1"/>
<line x1="262.5" y1="838.5" x2="262.5" y2="957.5" stroke="#d9d9d9" stroke-width="1"/>
<line x1="317.5" y1="838.5" x2="317.5" y2="957.5" stroke="#d9d9d9" stroke-width="1"/>
<line x1="361.5" y1="838.5" x2="361.5" y2="957.5" stroke="#d9d9d9" stroke-width="1"/>
<line x1="406.5" y1="838.5" x2="406.5" y2="957.5" stroke="#d9d9d9" stroke-width="1"/>
<line x1="450.5" y1="838.5" x2="450.5" y2="957.5" stroke="#d9d9d9" stroke-width="1"/>
<line x1="494.5" y1="838.5" x2="494.5" y2="957.5" stroke="#d9d9d9" stroke-width="1"/>
<line x1="538.5" y1="838.5" x2="538.5" y2="957.5" stroke="#d9d9d9" stroke-width="1"/>
<line x1="594.5" y1="838.5" x2="594.5" y2="957.5" stroke="#d9d9d9" stroke-width="1"/>
<line x1="638.5" y1="838.5" x2="638.5" y2="957.5" stroke="#d9d9d9" stroke-width="1"/>
<line x1="682.5" y1="838.5" x2="682.5" y2="957.5" stroke="#d9d9d9" stroke-width="1"/>
<line x1="737.5" y1="838.5" x2="737.5" y2="957.5" stroke="#d9d9d9" stroke-width="1"/>
<line x1="782.5" y1="838.5" x2="782.5" y2="957.5" stroke="#d9d9d9" stroke-width="1"/>
<line x1="826.5" y1="838.5" x2="826.5" y2="957.5" stroke="#d9d9d9" stroke-width="1"/>
<line x1="881.5" y1="838.5" x2="881.5" y2="957.5" stroke="#d9d9d9" stroke-width="1"/>
<line x1="24.5" y1="862.5" x2="920.5" y2="862.5" stroke="#d9d9d9" stroke-width="1"/>
<line x1="24.5" y1="886.5" x2="920.5" y2="886.5" stroke="#d9d9d9" stroke-width="1"/>
<line x1="24.5" y1="909.5" x2="920.5" y2="909.5" stroke="#d9d9d9" stroke-width="1"/>
<line x1="24.5" y1="933.5" x2="920.5" y2="933.5" stroke="#d9d9d9" stroke-width="1"/>
<rect x="24.5" y="838.5" width="896.0" height="119.0" fill="none" stroke="#d9d9d9" stroke-width="1"/>
<rect x="25.5" y="825.5" width="7" height="7" fill="#8b008b" stroke="#222" stroke-width="1"/>
<text x="37.2" y="832.7" font-size="10.4" fill="#111" textLength="77.5" lengthAdjust="spacingAndGlyphs">RSI (14): 45,121</text>
<text x="923.8" y="841.7" font-size="11" fill="#111">100</text>
<text x="923.8" y="865.7" font-size="11" fill="#111">80</text>
<text x="923.8" y="877.7" font-size="11" fill="#ff5050">70</text>
<text x="923.8" y="889.7" font-size="11" fill="#111">60</text>
<text x="923.8" y="912.7" font-size="11" fill="#111">40</text>
<text x="923.8" y="924.7" font-size="11" fill="#5060ee">30</text>
<text x="923.8" y="936.7" font-size="11" fill="#111">20</text>
<text x="923.8" y="960.7" font-size="11" fill="#111">0</text>
<polygon points="132.26,874.5 140.1,873.3 144.42,874.5" fill="#ff6666"/>
<polygon points="249.6,874.5 251,873.3 262.1,870.1 273.6,862.5 284.4,861.6 295.5,855.3 306.6,860.2 317.8,858.3 328.3,858.3 339.8,851.7 350.6,859.3 361.7,847.2 372.5,856.6 384,869.7 394.8,869.1 406.2,863.5 417.4,857 428.2,853.7 438.14,874.5" fill="#ff6666"/>
<polygon points="445.05,874.5 450.1,873 460.9,867.4 472.3,870.7 482.46,874.5" fill="#ff6666"/>
<polygon points="486.5,874.5 494.6,873 505.7,871.7 510.35,874.5" fill="#ff6666"/>
<line x1="24.5" y1="874.5" x2="920.5" y2="874.5" stroke="#ff6a6a" stroke-width="1"/>
<line x1="24.5" y1="921.5" x2="920.5" y2="921.5" stroke="#6070ee" stroke-width="1"/>
<polyline points="30.5,887.1 41.3,889.7 52,890.4 62.5,892 74,893 84.8,891 96.2,892 107.4,886.1 118.2,877.9 129,875 140.1,873.3 150.9,876.3 162.3,876.6 173.8,891.3 184.6,892 195.7,887.1 207.2,888.7 218,889.7 228.8,883.8 239.9,882.8 251,873.3 262.1,870.1 273.6,862.5 284.4,861.6 295.5,855.3 306.6,860.2 317.8,858.3 328.3,858.3 339.8,851.7 350.6,859.3 361.7,847.2 372.5,856.6 384,869.7 394.8,869.1 406.2,863.5 417.4,857 428.2,853.7 439,876.3 450.1,873 460.9,867.4 472.3,870.7 483.8,875 494.6,873 505.7,871.7 516.5,878.2 527.3,889 538.8,881.5 549.9,880.5 561,894.6 572.1,904.4 583,902.5 593.8,902.5 604.9,899.2 616.3,902.5 627.1,903.4" fill="none" stroke="#8c1f9c" stroke-width="1.15" stroke-linejoin="round"/>
<line x1="30.5" y1="982.5" x2="30.5" y2="1101.5" stroke="#d9d9d9" stroke-width="1"/>
<line x1="74.5" y1="982.5" x2="74.5" y2="1101.5" stroke="#d9d9d9" stroke-width="1"/>
<line x1="118.5" y1="982.5" x2="118.5" y2="1101.5" stroke="#d9d9d9" stroke-width="1"/>
<line x1="173.5" y1="982.5" x2="173.5" y2="1101.5" stroke="#d9d9d9" stroke-width="1"/>
<line x1="218.5" y1="982.5" x2="218.5" y2="1101.5" stroke="#d9d9d9" stroke-width="1"/>
<line x1="262.5" y1="982.5" x2="262.5" y2="1101.5" stroke="#d9d9d9" stroke-width="1"/>
<line x1="317.5" y1="982.5" x2="317.5" y2="1101.5" stroke="#d9d9d9" stroke-width="1"/>
<line x1="361.5" y1="982.5" x2="361.5" y2="1101.5" stroke="#d9d9d9" stroke-width="1"/>
<line x1="406.5" y1="982.5" x2="406.5" y2="1101.5" stroke="#d9d9d9" stroke-width="1"/>
<line x1="450.5" y1="982.5" x2="450.5" y2="1101.5" stroke="#d9d9d9" stroke-width="1"/>
<line x1="494.5" y1="982.5" x2="494.5" y2="1101.5" stroke="#d9d9d9" stroke-width="1"/>
<line x1="538.5" y1="982.5" x2="538.5" y2="1101.5" stroke="#d9d9d9" stroke-width="1"/>
<line x1="594.5" y1="982.5" x2="594.5" y2="1101.5" stroke="#d9d9d9" stroke-width="1"/>
<line x1="638.5" y1="982.5" x2="638.5" y2="1101.5" stroke="#d9d9d9" stroke-width="1"/>
<line x1="682.5" y1="982.5" x2="682.5" y2="1101.5" stroke="#d9d9d9" stroke-width="1"/>
<line x1="737.5" y1="982.5" x2="737.5" y2="1101.5" stroke="#d9d9d9" stroke-width="1"/>
<line x1="782.5" y1="982.5" x2="782.5" y2="1101.5" stroke="#d9d9d9" stroke-width="1"/>
<line x1="826.5" y1="982.5" x2="826.5" y2="1101.5" stroke="#d9d9d9" stroke-width="1"/>
<line x1="881.5" y1="982.5" x2="881.5" y2="1101.5" stroke="#d9d9d9" stroke-width="1"/>
<line x1="24.5" y1="1012.5" x2="920.5" y2="1012.5" stroke="#d9d9d9" stroke-width="1"/>
<line x1="24.5" y1="1041.5" x2="920.5" y2="1041.5" stroke="#d9d9d9" stroke-width="1"/>
<line x1="24.5" y1="1071.5" x2="920.5" y2="1071.5" stroke="#d9d9d9" stroke-width="1"/>
<rect x="24.5" y="982.5" width="896.0" height="119.0" fill="none" stroke="#d9d9d9" stroke-width="1"/>
<rect x="25.5" y="969.5" width="7" height="7" fill="#0000ee" stroke="#222" stroke-width="1"/>
<text x="37" y="976.8" font-size="10.8" fill="#111" textLength="104.6" lengthAdjust="spacingAndGlyphs">MACD (26, 12): 1.213</text>
<rect x="165.5" y="969.5" width="7" height="7" fill="#ff00ff" stroke="#222" stroke-width="1"/>
<text x="176.1" y="976.8" font-size="10.8" fill="#111" textLength="79.4" lengthAdjust="spacingAndGlyphs">EXP (9): 4.646,7</text>
<rect x="279.5" y="969.5" width="7" height="7" fill="#007700" stroke="#222" stroke-width="1"/>
<text x="290.3" y="976.8" font-size="10.8" fill="#111" textLength="102" lengthAdjust="spacingAndGlyphs">Divergence: -3.433,7</text>
<text x="923.8" y="985.7" font-size="11.3" fill="#111" textLength="33.2" lengthAdjust="spacingAndGlyphs">15.000</text>
<text x="923.8" y="1015.7" font-size="11.3" fill="#111" textLength="33.2" lengthAdjust="spacingAndGlyphs">10.000</text>
<text x="923.8" y="1044.7" font-size="11.3" fill="#111" textLength="27.5" lengthAdjust="spacingAndGlyphs">5.000</text>
<text x="923.8" y="1074.7" font-size="11.3" fill="#111" textLength="6.6" lengthAdjust="spacingAndGlyphs">0</text>
<text x="923.8" y="1104.7" font-size="11.3" fill="#111" textLength="31" lengthAdjust="spacingAndGlyphs">-5.000</text>
<rect x="26" y="1070" width="8" height="2" fill="#008000"/>
<rect x="37" y="1070" width="8" height="2" fill="#008000"/>
<rect x="48" y="1070" width="8" height="2" fill="#008000"/>
<rect x="59" y="1070" width="8" height="2" fill="#008000"/>
<rect x="70" y="1070" width="8" height="2" fill="#008000"/>
<rect x="81" y="1070" width="8" height="2" fill="#008000"/>
<rect x="92" y="1070" width="8" height="2" fill="#008000"/>
<rect x="103" y="1070" width="8" height="2" fill="#008000"/>
<rect x="114" y="1070" width="8" height="2" fill="#008000"/>
<rect x="125" y="1069.6" width="8" height="2.4" fill="#008000"/>
<rect x="136" y="1068.5" width="8" height="3.5" fill="#008000"/>
<rect x="147" y="1068.3" width="8" height="3.7" fill="#008000"/>
<rect x="158" y="1069.5" width="8" height="2.5" fill="#008000"/>
<rect x="169" y="1070" width="8" height="2" fill="#008000"/>
<rect x="180" y="1070" width="8" height="2" fill="#008000"/>
<rect x="191" y="1070" width="8" height="2" fill="#008000"/>
<rect x="203" y="1070" width="8" height="2" fill="#008000"/>
<rect x="214" y="1070" width="8" height="2" fill="#008000"/>
<rect x="225" y="1070" width="8" height="2" fill="#008000"/>
<rect x="236" y="1070" width="8" height="2" fill="#008000"/>
<rect x="247" y="1070" width="8" height="2" fill="#008000"/>
<rect x="258" y="1070" width="8" height="2" fill="#008000"/>
<rect x="269" y="1069" width="8" height="3" fill="#008000"/>
<rect x="280" y="1069" width="8" height="3" fill="#008000"/>
<rect x="291" y="1066.8" width="8" height="5.2" fill="#008000"/>
<rect x="302" y="1066.8" width="8" height="5.2" fill="#008000"/>
<rect x="313" y="1066.8" width="8" height="5.2" fill="#008000"/>
<rect x="324" y="1066.8" width="8" height="5.2" fill="#008000"/>
<rect x="335" y="1065.8" width="8" height="6.2" fill="#008000"/>
<rect x="346" y="1065.8" width="8" height="6.2" fill="#008000"/>
<rect x="357" y="1059.8" width="8" height="12.2" fill="#008000"/>
<rect x="368" y="1057.5" width="8" height="14.5" fill="#008000"/>
<rect x="380" y="1058.8" width="8" height="13.2" fill="#008000"/>
<rect x="391" y="1059.8" width="8" height="12.2" fill="#008000"/>
<rect x="402" y="1059.8" width="8" height="12.2" fill="#008000"/>
<rect x="413" y="1055.9" width="8" height="16.1" fill="#008000"/>
<rect x="424" y="1052.3" width="8" height="19.7" fill="#008000"/>
<rect x="435" y="1054.9" width="8" height="17.1" fill="#008000"/>
<rect x="446" y="1056.9" width="8" height="15.1" fill="#008000"/>
<rect x="457" y="1054.9" width="8" height="17.1" fill="#008000"/>
<rect x="468" y="1055.9" width="8" height="16.1" fill="#008000"/>
<rect x="479" y="1058.8" width="8" height="13.2" fill="#008000"/>
<rect x="490" y="1060.8" width="8" height="11.2" fill="#008000"/>
<rect x="501" y="1063.1" width="8" height="8.9" fill="#008000"/>
<rect x="512" y="1065.7" width="8" height="6.3" fill="#008000"/>
<rect x="523" y="1071" width="8" height="2.2" fill="#008000"/>
<rect x="534" y="1071" width="8" height="2.5" fill="#008000"/>
<rect x="545" y="1071" width="8" height="2.5" fill="#008000"/>
<rect x="556" y="1071" width="8" height="8.8" fill="#008000"/>
<rect x="568" y="1071" width="8" height="16.9" fill="#008000"/>
<rect x="579" y="1071" width="8" height="20.9" fill="#008000"/>
<rect x="590" y="1071" width="8" height="23" fill="#008000"/>
<rect x="601" y="1071" width="8" height="22" fill="#008000"/>
<rect x="612" y="1071" width="8" height="22" fill="#008000"/>
<rect x="623" y="1071" width="8" height="22" fill="#008000"/>
<polyline points="26.5,1071.3 101.8,1070.3 150.9,1068.6 183.6,1068.2 263,1067.6 294.4,1065 330.2,1061.5 350.3,1058.6 372.5,1052.6 395.4,1047.7 416.7,1041.8 428.2,1036.9 460.9,1025.4 493.6,1015 510,1011.7 526.3,1010.7 549.2,1012.4 561,1014 591.8,1028.7 627.1,1044.1" fill="none" stroke="#ff33ff" stroke-width="1.2" stroke-linejoin="round"/>
<polyline points="26.5,1070.6 52.7,1069.6 101.8,1069.6 118.2,1068.6 137.8,1067 160.7,1066.3 183.6,1067.3 216.3,1068 242.5,1067.6 263,1066.2 284.4,1063.3 294.4,1061 317.3,1058.6 330.2,1057.6 339.8,1054.9 350.6,1053.3 361.7,1045.1 372.5,1039.5 384,1037.6 394.8,1035.9 406.2,1032.6 417.4,1025.4 428.2,1016.6 439,1015.6 450.1,1013 460.9,1007.4 472.3,1005.2 483.8,1004.8 494.6,1004.2 505.7,1003.5 516.5,1005.8 527.3,1011.4 538.8,1013 549.9,1014.6 561,1022.2 572.1,1034.6 583,1043.4 593.8,1050 604.9,1054.2 616.3,1059.1 627.1,1064.7" fill="none" stroke="#2a2af0" stroke-width="1.2" stroke-linejoin="round"/>
</svg>
</body></html>
